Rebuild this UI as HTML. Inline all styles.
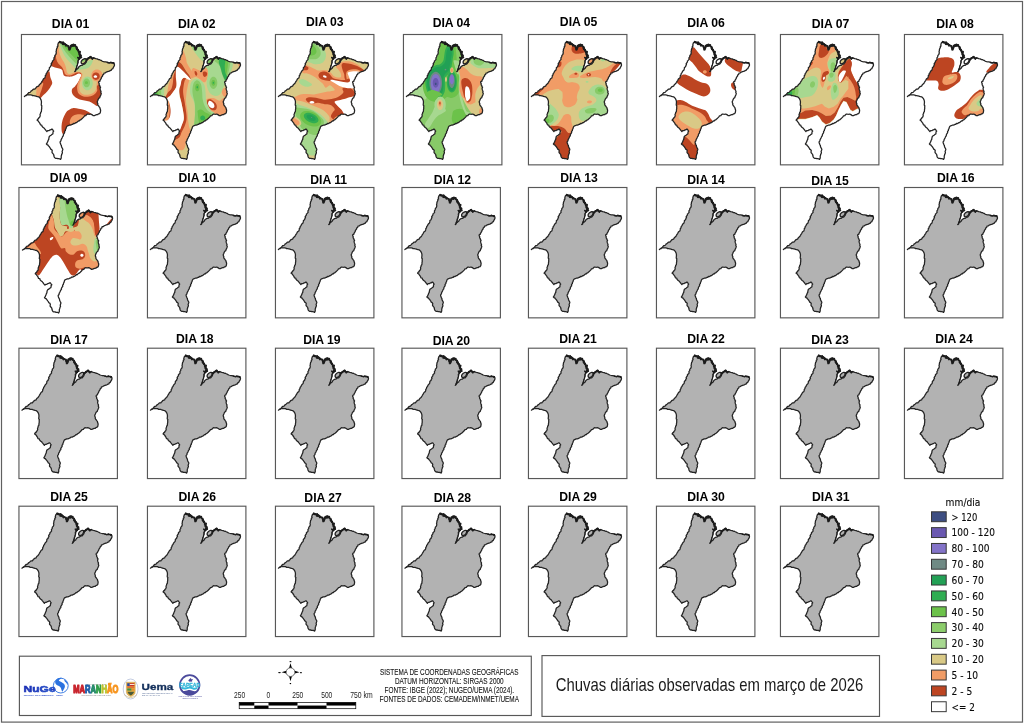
<!DOCTYPE html>
<html lang="pt-BR"><head><meta charset="utf-8"><title>Chuvas diárias observadas em março de 2026</title>
<style>html,body{margin:0;padding:0;background:#fff}body{width:1024px;height:724px;overflow:hidden}svg{display:block}text{font-family:"Liberation Sans",sans-serif;fill:#1a1a1a}.t{font-weight:bold;font-size:12.2px;text-anchor:middle;fill:#000}.lg{font-family:"DejaVu Sans","Liberation Sans",sans-serif;font-size:10px;fill:#0a0a0a;stroke:#0a0a0a;stroke-width:0.12px}.fr{fill:#fff;stroke:#585858;stroke-width:1.15}.ol{fill:none;stroke:#242424;stroke-width:13;stroke-linejoin:round}.ct{fill:none;stroke:#1c1c1c;stroke-width:18;stroke-linejoin:round;stroke-linecap:round}</style></head><body>
<svg width="1024" height="724" viewBox="0 0 1024 724" style="will-change:transform;filter:blur(0.3px)">
<defs>
<path id="st" d="M35.0 640.0L44.6 633.0L55.0 625.0L65.1 618.1L68.4 612.4L75.0 605.0L80.8 600.1L92.7 597.3L100.0 590.0L104.3 582.2L111.7 580.0L124.0 567.6L130.0 565.0L142.2 563.7L147.9 555.9L155.0 550.0L160.6 541.1L171.9 536.5L180.0 535.0L184.2 524.6L189.6 518.0L200.0 510.0L204.5 504.4L210.2 494.5L215.0 485.0L221.7 476.3L228.0 463.2L235.0 455.0L244.0 450.2L247.7 439.2L248.5 426.6L255.0 420.0L258.3 404.9L267.1 395.9L270.0 385.0L279.4 374.1L287.0 367.8L290.0 355.0L291.0 342.7L303.3 334.8L305.0 325.0L312.2 314.2L308.3 306.0L315.0 295.0L322.2 284.8L321.7 277.0L330.0 270.0L338.7 260.4L336.9 244.6L345.0 235.0L346.8 219.8L357.4 209.1L360.0 200.0L361.1 189.6L358.9 181.9L362.0 170.0L362.4 161.1L365.6 149.4L372.0 140.0L371.7 128.2L379.8 122.4L376.4 113.1L380.0 100.0L382.7 90.8L392.8 84.5L395.0 75.0L400.1 82.2L409.4 79.7L420.0 85.0L430.5 87.0L435.0 88.3L445.0 95.0L451.7 103.2L465.0 110.0L472.9 118.3L485.0 125.0L486.3 134.6L493.3 144.9L492.0 155.0L496.6 150.4L500.0 140.0L502.5 128.9L513.3 125.9L515.0 115.0L523.0 107.5L535.0 105.0L546.9 116.0L555.0 120.0L558.2 130.3L569.4 134.2L572.0 140.0L576.7 145.2L579.0 160.4L588.0 165.0L589.9 176.6L594.1 187.6L600.0 195.0L602.8 203.3L601.4 216.8L606.0 225.0L599.6 232.8L600.0 245.0L590.5 245.3L580.0 240.0L585.9 245.7L590.0 255.0L602.0 252.0L597.3 257.6L586.0 268.0L581.1 278.2L584.0 292.0L580.6 300.0L578.0 315.0L571.9 326.5L571.0 340.0L567.9 345.4L562.6 359.8L560.0 365.0L559.8 375.8L552.0 384.0L560.2 377.3L562.5 365.6L572.0 362.0L574.1 357.9L585.6 351.0L590.0 340.0L596.2 333.1L610.0 324.0L617.9 322.5L624.6 321.3L634.0 314.0L638.6 309.7L651.9 307.9L658.0 300.0L664.6 293.0L669.7 286.0L672.0 274.0L677.3 266.0L685.0 255.0L695.7 250.5L700.0 240.0L706.8 239.8L715.0 235.0L725.4 243.1L730.0 250.0L738.5 246.6L745.0 245.0L757.3 249.2L765.0 252.8L780.0 255.0L793.9 261.8L801.8 261.6L811.9 266.9L820.0 270.0L829.5 276.5L836.7 279.5L846.2 282.1L860.0 285.0L871.5 286.2L884.9 291.6L895.0 295.0L906.9 298.4L915.0 291.1L926.4 296.4L936.6 292.4L950.0 295.0L956.7 308.8L957.0 320.0L950.9 334.8L944.3 344.7L940.0 355.0L928.8 360.7L924.9 370.8L916.8 372.8L905.0 380.0L894.0 382.5L878.8 388.0L870.0 392.0L862.7 398.8L850.0 400.0L846.7 413.6L838.2 417.4L835.0 430.0L829.6 437.0L822.7 446.8L821.0 456.2L815.0 465.0L808.5 476.5L808.9 482.1L796.6 487.5L795.0 500.0L800.5 506.3L800.0 520.0L806.7 528.9L808.5 539.0L815.0 545.0L809.7 554.6L812.0 570.0L814.1 576.2L819.6 587.9L816.6 596.4L822.0 610.0L819.0 619.4L815.0 630.8L810.0 639.4L805.8 653.1L798.1 657.0L790.0 669.4L787.1 678.5L780.8 692.5L782.0 704.4L786.4 711.2L785.5 721.8L790.0 732.4L797.6 739.9L802.9 749.1L808.0 754.4L810.6 769.2L815.0 779.4L814.9 787.8L811.8 804.5L805.0 814.4L792.0 818.0L786.0 825.7L775.0 826.4L762.3 830.3L754.7 835.4L740.0 836.4L733.6 830.4L721.2 822.7L710.0 819.4L701.8 821.9L691.1 821.1L680.0 819.4L667.7 829.3L663.8 836.6L650.0 839.4L641.5 851.0L631.1 861.2L626.6 865.9L615.0 876.4L602.7 881.9L597.4 890.5L587.9 890.6L581.5 896.9L570.0 906.4L562.4 907.8L548.7 916.7L537.1 915.6L530.1 924.2L520.0 926.4L512.7 931.5L503.6 933.5L493.6 933.9L477.8 941.0L470.0 944.4L463.3 957.9L461.1 967.9L455.0 979.4L454.0 989.9L446.0 998.4L446.5 1012.6L440.0 1019.4L432.7 1033.5L433.7 1042.1L425.6 1050.8L420.0 1064.4L415.3 1074.4L410.8 1080.6L408.8 1094.5L400.0 1104.4L401.7 1116.8L405.0 1124.4L408.8 1134.3L413.2 1140.9L415.0 1154.4L419.6 1163.7L427.3 1177.8L428.0 1184.4L424.2 1194.2L421.0 1203.9L424.5 1217.6L420.0 1224.4L417.1 1234.6L412.2 1248.7L412.0 1259.4L411.9 1268.9L405.0 1284.4L397.2 1277.9L382.6 1276.9L375.0 1276.4L367.5 1272.6L355.8 1272.7L348.0 1269.4L340.5 1259.6L336.3 1246.2L335.0 1234.4L327.3 1225.3L323.9 1220.6L318.0 1214.4L318.0 1203.7L320.0 1194.4L313.6 1183.3L304.3 1178.8L300.0 1169.4L294.4 1161.3L289.5 1153.6L280.0 1144.4L276.2 1136.3L268.6 1134.9L260.0 1126.4L268.2 1115.9L268.5 1111.8L275.0 1099.4L276.1 1093.4L284.8 1076.5L285.0 1069.4L286.2 1062.9L289.7 1049.5L295.0 1044.4L307.7 1037.1L317.3 1028.1L325.0 1024.4L327.6 1015.9L327.8 1002.0L335.0 994.4L329.0 987.7L320.0 974.4L315.4 974.0L303.4 981.8L295.0 982.4L285.0 989.6L272.5 990.3L265.0 999.4L255.2 987.4L252.1 982.9L245.0 974.4L238.0 964.1L227.5 957.0L225.2 955.8L215.0 944.4L212.2 932.4L199.0 930.5L195.9 920.3L190.0 909.4L183.6 901.6L180.0 894.4L172.6 887.8L165.0 882.4L172.6 870.3L180.1 868.7L182.7 857.3L192.0 849.4L196.6 837.0L194.9 823.4L200.0 814.4L202.6 800.5L208.1 796.8L209.1 787.3L210.0 774.4L212.0 763.6L212.0 754.4L211.8 744.4L213.9 736.8L207.1 727.7L208.0 714.4L209.2 706.6L209.0 693.6L208.9 687.4L205.0 674.4L201.6 667.5L195.0 656.4L188.8 651.0L180.1 643.6L170.0 642.4L158.7 638.8L146.1 634.6L140.0 632.4L131.1 631.4L117.9 632.0L111.3 625.1L100.0 624.4L91.3 624.5L80.3 622.5L74.0 624.0L60.0 622.4L53.3 630.4L47.2 630.3Z"/>
<path id="isl" d="M622.0 304.0C617.2 301.0 614.7 289.7 616.0 283.0C617.3 276.3 624.0 269.0 630.0 264.0C636.0 259.0 645.8 253.8 652.0 253.0C658.2 252.2 665.3 254.0 667.0 259.0C668.7 264.0 665.7 276.0 662.0 283.0C658.3 290.0 651.7 297.5 645.0 301.0C638.3 304.5 626.8 307.0 622.0 304.0Z"/>
<clipPath id="cp"><use href="#st"/><use href="#isl"/></clipPath>
<g id="coast"><path class="ct" transform="translate(1 6)" d="M395.0 75.0L397.6 79.3L408.8 84.0L420.0 85.0L431.1 78.8L426.0 99.1L445.0 95.0L449.7 96.7L465.0 110.0L485.9 116.8L485.0 125.0L494.7 134.5L492.7 137.3L492.0 155.0L499.0 155.6L500.0 140.0L505.5 137.0L513.8 113.7L515.0 115.0L530.7 112.0L535.0 105.0L540.6 102.2L555.0 120.0L568.7 126.1L571.1 141.7L572.0 140.0L582.0 157.6L580.4 163.3L588.0 165.0L590.8 184.6L604.3 176.1L600.0 195.0L594.0 198.8L614.2 213.6L606.0 225.0L605.8 230.6L600.0 245.0"/><path class="ct" style="stroke-width:10" d="M600.0 245.0L590.7 244.0L580.0 240.0L586.8 250.2L590.0 255.0L597.4 256.0L602.0 252.0L591.2 259.8L586.0 268.0L588.0 276.9L587.1 281.7L584.0 292.0L580.8 302.0L578.0 315.0L575.9 323.8L570.4 330.0L571.0 340.0L566.0 350.8L565.3 354.6L560.0 365.0L557.8 372.3L552.0 384.0"/><path class="ct" style="stroke-width:16" d="M672.0 268.0L677.9 259.5L685.0 255.0L684.2 255.9L687.1 245.0L700.0 240.0L713.9 230.8L715.0 235.0L720.9 241.9L717.7 243.1L730.0 250.0L740.8 246.7L745.0 245.0"/><path class="ct" style="stroke-width:13" d="M890.0 294.0L950.0 295.0"/></g>
<g id="cdots" fill="#1c1c1c"><g transform="translate(1 6)"><circle cx="398" cy="76" r="10.1"/><circle cx="438" cy="99" r="9.4"/><circle cx="442" cy="94" r="11.5"/><circle cx="459" cy="113" r="11.7"/><circle cx="488" cy="136" r="9.0"/><circle cx="501" cy="142" r="9.8"/><circle cx="508" cy="113" r="9.5"/><circle cx="531" cy="114" r="12.6"/><circle cx="553" cy="109" r="11.8"/><circle cx="569" cy="141" r="11.9"/><circle cx="572" cy="149" r="10.4"/><circle cx="583" cy="159" r="10.4"/><circle cx="600" cy="208" r="10.0"/><circle cx="613" cy="232" r="12.0"/></g><circle cx="600" cy="240" r="6.5"/><circle cx="590" cy="253" r="7.7"/><circle cx="601" cy="250" r="5.1"/><circle cx="672" cy="260" r="10.8"/><circle cx="693" cy="247" r="8.6"/><circle cx="710" cy="233" r="8.0"/><circle cx="718" cy="243" r="10.6"/><circle cx="730" cy="256" r="9.0"/><circle cx="887" cy="290" r="8.5"/><circle cx="922" cy="290" r="7.5"/><circle cx="946" cy="300" r="9.4"/></g>
<g id="gmap"><use href="#st" fill="#b2b2b2"/><use href="#isl" fill="#b2b2b2"/><use href="#st" class="ol"/><use href="#isl" class="ol" style="stroke-width:14;stroke:#222"/><use href="#coast"/><use href="#cdots"/></g>
</defs>
<rect x="0" y="0" width="1024" height="724" fill="#fff"/>
<rect x="1.5" y="1.5" width="1021" height="720.6" fill="none" stroke="#606060" stroke-width="1.2"/>
<text class="t" x="70.6" y="27.9">DIA 01</text>
<rect class="fr" x="21.45" y="34.50" width="98.45" height="130.35"/>
<g transform="translate(21.00 34.00) scale(0.09766)">
<g clip-path="url(#cp)">
<rect x="0" y="0" width="1024" height="1340" fill="#ffffff"/>
<path fill="#bd4522" d="M300.0 300.0C296.7 345.0 313.3 323.3 320.0 330.0C326.7 336.7 330.0 336.7 340.0 340.0C350.0 343.3 366.7 345.8 380.0 350.0C393.3 354.2 411.7 356.7 420.0 365.0C428.3 373.3 426.7 390.0 430.0 400.0C433.3 410.0 433.3 419.2 440.0 425.0C446.7 430.8 456.7 433.3 470.0 435.0C483.3 436.7 505.0 437.5 520.0 435.0C535.0 432.5 548.3 425.0 560.0 420.0C571.7 415.0 581.7 406.7 590.0 405.0C598.3 403.3 605.8 405.8 610.0 410.0C614.2 414.2 616.7 421.7 615.0 430.0C613.3 438.3 605.8 448.3 600.0 460.0C594.2 471.7 588.3 486.7 580.0 500.0C571.7 513.3 559.2 530.0 550.0 540.0C540.8 550.0 530.0 551.7 525.0 560.0C520.0 568.3 519.2 580.0 520.0 590.0C520.8 600.0 523.3 610.0 530.0 620.0C536.7 630.0 548.3 641.7 560.0 650.0C571.7 658.3 585.0 665.0 600.0 670.0C615.0 675.0 633.3 676.3 650.0 680.0C666.7 683.7 685.0 686.3 700.0 692.0C715.0 697.7 727.5 706.7 740.0 714.0C752.5 721.3 765.0 733.3 775.0 736.0C785.0 738.7 762.5 736.0 800.0 730.0C837.5 724.0 966.7 788.3 1000.0 700.0C1033.3 611.7 1100.0 311.7 1000.0 200.0C900.0 88.3 510.0 53.3 400.0 30.0C290.0 6.7 356.7 15.0 340.0 60.0C323.3 105.0 303.3 255.0 300.0 300.0Z"/>
<path fill="#f19c66" d="M368.0 150.0C361.3 178.3 361.3 183.3 360.0 200.0C358.7 216.7 356.7 233.3 360.0 250.0C363.3 266.7 370.0 285.0 380.0 300.0C390.0 315.0 410.0 326.7 420.0 340.0C430.0 353.3 435.0 368.3 440.0 380.0C445.0 391.7 443.3 402.5 450.0 410.0C456.7 417.5 468.3 423.3 480.0 425.0C491.7 426.7 506.7 424.2 520.0 420.0C533.3 415.8 548.3 404.2 560.0 400.0C571.7 395.8 580.8 394.7 590.0 395.0C599.2 395.3 611.3 394.5 615.0 402.0C618.7 409.5 615.8 427.0 612.0 440.0C608.2 453.0 597.7 466.7 592.0 480.0C586.3 493.3 580.8 506.7 578.0 520.0C575.2 533.3 573.0 545.0 575.0 560.0C577.0 575.0 579.2 596.7 590.0 610.0C600.8 623.3 621.7 635.0 640.0 640.0C658.3 645.0 681.7 643.3 700.0 640.0C718.3 636.7 736.7 630.0 750.0 620.0C763.3 610.0 772.5 596.7 780.0 580.0C787.5 563.3 758.3 533.3 795.0 520.0C831.7 506.7 965.8 553.3 1000.0 500.0C1034.2 446.7 1100.0 278.3 1000.0 200.0C900.0 121.7 505.3 38.3 400.0 30.0C294.7 21.7 374.7 121.7 368.0 150.0Z"/>
<path fill="#d9c986" d="M385.0 105.0C383.3 130.0 385.8 157.5 390.0 180.0C394.2 202.5 401.7 221.7 410.0 240.0C418.3 258.3 431.7 273.3 440.0 290.0C448.3 306.7 455.0 323.3 460.0 340.0C465.0 356.7 465.0 378.3 470.0 390.0C475.0 401.7 480.0 408.3 490.0 410.0C500.0 411.7 518.3 404.2 530.0 400.0C541.7 395.8 548.3 386.7 560.0 385.0C571.7 383.3 588.7 385.8 600.0 390.0C611.3 394.2 624.3 400.0 628.0 410.0C631.7 420.0 625.7 436.7 622.0 450.0C618.3 463.3 610.0 475.0 606.0 490.0C602.0 505.0 598.2 523.3 598.0 540.0C597.8 556.7 598.0 576.7 605.0 590.0C612.0 603.3 624.2 615.0 640.0 620.0C655.8 625.0 682.5 623.3 700.0 620.0C717.5 616.7 733.3 610.0 745.0 600.0C756.7 590.0 764.8 576.7 770.0 560.0C775.2 543.3 771.0 513.3 776.0 500.0C781.0 486.7 762.7 485.0 800.0 480.0C837.3 475.0 966.7 516.7 1000.0 470.0C1033.3 423.3 1100.0 273.3 1000.0 200.0C900.0 126.7 502.5 45.8 400.0 30.0C297.5 14.2 386.7 80.0 385.0 105.0Z"/>
<path fill="#f19c66" d="M836.0 425.0C836.0 432.9 834.4 441.4 831.6 448.7C828.8 456.0 824.2 463.2 819.0 468.8C813.8 474.4 807.0 479.3 800.2 482.3C793.4 485.3 785.4 487.0 778.0 487.0C770.6 487.0 762.6 485.3 755.8 482.3C749.0 479.3 742.2 474.4 737.0 468.8C731.8 463.2 727.2 456.0 724.4 448.7C721.6 441.4 720.0 432.9 720.0 425.0C720.0 417.1 721.6 408.6 724.4 401.3C727.2 394.0 731.8 386.8 737.0 381.2C742.2 375.6 749.0 370.7 755.8 367.7C762.6 364.7 770.6 363.0 778.0 363.0C785.4 363.0 793.4 364.7 800.2 367.7C807.0 370.7 813.8 375.6 819.0 381.2C824.2 386.8 828.8 394.0 831.6 401.3C834.4 408.6 836.0 417.1 836.0 425.0Z"/>
<path fill="#bd4522" d="M806.0 432.0C806.0 436.8 805.0 442.1 803.1 446.5C801.3 451.0 798.3 455.4 794.9 458.9C791.4 462.3 787.0 465.3 782.5 467.1C778.1 469.0 772.8 470.0 768.0 470.0C763.2 470.0 757.9 469.0 753.5 467.1C749.0 465.3 744.6 462.3 741.1 458.9C737.7 455.4 734.7 451.0 732.9 446.5C731.0 442.1 730.0 436.8 730.0 432.0C730.0 427.2 731.0 421.9 732.9 417.5C734.7 413.0 737.7 408.6 741.1 405.1C744.6 401.7 749.0 398.7 753.5 396.9C757.9 395.0 763.2 394.0 768.0 394.0C772.8 394.0 778.1 395.0 782.5 396.9C787.0 398.7 791.4 401.7 794.9 405.1C798.3 408.6 801.3 413.0 803.1 417.5C805.0 421.9 806.0 427.2 806.0 432.0Z"/>
<path fill="#ffffff" d="M780.0 436.0C780.0 437.7 779.5 439.4 778.6 441.0C777.8 442.5 776.4 444.0 774.7 445.2C773.1 446.4 771.0 447.4 768.9 448.0C766.8 448.6 764.3 449.0 762.0 449.0C759.7 449.0 757.2 448.6 755.1 448.0C753.0 447.4 750.9 446.4 749.3 445.2C747.6 444.0 746.2 442.5 745.4 441.0C744.5 439.4 744.0 437.7 744.0 436.0C744.0 434.3 744.5 432.6 745.4 431.0C746.2 429.5 747.6 428.0 749.3 426.8C750.9 425.6 753.0 424.6 755.1 424.0C757.2 423.4 759.7 423.0 762.0 423.0C764.3 423.0 766.8 423.4 768.9 424.0C771.0 424.6 773.1 425.6 774.7 426.8C776.4 428.0 777.8 429.5 778.6 431.0C779.5 432.6 780.0 434.3 780.0 436.0Z"/>
<path fill="#a7d890" d="M398.0 100.0C398.0 120.0 411.3 148.3 420.0 170.0C428.7 191.7 438.3 211.7 450.0 230.0C461.7 248.3 476.7 265.0 490.0 280.0C503.3 295.0 518.0 307.3 530.0 320.0C542.0 332.7 553.7 351.8 562.0 356.0C570.3 360.2 570.3 350.2 580.0 345.0C589.7 339.8 606.7 333.3 620.0 325.0C633.3 316.7 646.7 303.8 660.0 295.0C673.3 286.2 687.5 276.5 700.0 272.0C712.5 267.5 731.3 261.7 735.0 268.0C738.7 274.3 729.5 297.2 722.0 310.0C714.5 322.8 703.7 336.3 690.0 345.0C676.3 353.7 655.8 358.2 640.0 362.0C624.2 365.8 608.3 365.8 595.0 368.0C581.7 370.2 559.2 396.3 560.0 375.0C560.8 353.7 603.3 292.5 600.0 240.0C596.7 187.5 570.0 91.7 540.0 60.0C510.0 28.3 443.7 43.3 420.0 50.0C396.3 56.7 398.0 80.0 398.0 100.0Z"/>
<path fill="#88ca68" d="M412.0 100.0C415.3 118.3 428.7 140.8 440.0 160.0C451.3 179.2 466.7 198.3 480.0 215.0C493.3 231.7 506.7 245.8 520.0 260.0C533.3 274.2 550.0 289.2 560.0 300.0C570.0 310.8 573.3 325.0 580.0 325.0C586.7 325.0 590.0 306.7 600.0 300.0C610.0 293.3 626.7 291.3 640.0 285.0C653.3 278.7 669.2 267.8 680.0 262.0C690.8 256.2 703.3 256.2 705.0 250.0C706.7 243.8 707.5 241.7 690.0 225.0C672.5 208.3 625.0 177.5 600.0 150.0C575.0 122.5 570.0 76.7 540.0 60.0C510.0 43.3 441.3 43.3 420.0 50.0C398.7 56.7 408.7 81.7 412.0 100.0Z"/>
<path fill="#6cc24a" d="M430.0 100.0C423.3 115.0 448.3 134.2 460.0 150.0C471.7 165.8 486.7 180.8 500.0 195.0C513.3 209.2 527.5 223.3 540.0 235.0C552.5 246.7 564.7 262.5 575.0 265.0C585.3 267.5 593.7 260.8 602.0 250.0C610.3 239.2 628.7 225.0 625.0 200.0C621.3 175.0 600.8 123.3 580.0 100.0C559.2 76.7 525.0 60.0 500.0 60.0C475.0 60.0 436.7 85.0 430.0 100.0Z"/>
<path fill="#a7d890" d="M735.0 505.0C735.0 513.9 733.5 523.5 730.8 531.8C728.1 540.0 723.9 548.2 718.9 554.5C713.9 560.8 707.5 566.3 701.0 569.7C694.6 573.1 687.0 575.0 680.0 575.0C673.0 575.0 665.4 573.1 659.0 569.7C652.5 566.3 646.1 560.8 641.1 554.5C636.1 548.2 631.9 540.0 629.2 531.8C626.5 523.5 625.0 513.9 625.0 505.0C625.0 496.1 626.5 486.5 629.2 478.2C631.9 470.0 636.1 461.8 641.1 455.5C646.1 449.2 652.5 443.7 659.0 440.3C665.4 436.9 673.0 435.0 680.0 435.0C687.0 435.0 694.6 436.9 701.0 440.3C707.5 443.7 713.9 449.2 718.9 455.5C723.9 461.8 728.1 470.0 730.8 478.2C733.5 486.5 735.0 496.1 735.0 505.0Z"/>
<path fill="#88ca68" d="M707.0 500.0C707.0 505.7 706.0 511.9 704.3 517.2C702.6 522.5 699.9 527.8 696.7 531.8C693.6 535.9 689.5 539.4 685.4 541.6C681.3 543.8 676.5 545.0 672.0 545.0C667.5 545.0 662.7 543.8 658.6 541.6C654.5 539.4 650.4 535.9 647.3 531.8C644.1 527.8 641.4 522.5 639.7 517.2C638.0 511.9 637.0 505.7 637.0 500.0C637.0 494.3 638.0 488.1 639.7 482.8C641.4 477.5 644.1 472.2 647.3 468.2C650.4 464.1 654.5 460.6 658.6 458.4C662.7 456.2 667.5 455.0 672.0 455.0C676.5 455.0 681.3 456.2 685.4 458.4C689.5 460.6 693.6 464.1 696.7 468.2C699.9 472.2 702.6 477.5 704.3 482.8C706.0 488.1 707.0 494.3 707.0 500.0Z"/>
<path fill="#6cc24a" d="M685.0 498.0C685.0 499.9 684.6 502.0 683.9 503.7C683.1 505.5 682.0 507.3 680.6 508.6C679.3 510.0 677.5 511.1 675.7 511.9C674.0 512.6 671.9 513.0 670.0 513.0C668.1 513.0 666.0 512.6 664.3 511.9C662.5 511.1 660.7 510.0 659.4 508.6C658.0 507.3 656.9 505.5 656.1 503.7C655.4 502.0 655.0 499.9 655.0 498.0C655.0 496.1 655.4 494.0 656.1 492.3C656.9 490.5 658.0 488.7 659.4 487.4C660.7 486.0 662.5 484.9 664.3 484.1C666.0 483.4 668.1 483.0 670.0 483.0C671.9 483.0 674.0 483.4 675.7 484.1C677.5 484.9 679.3 486.0 680.6 487.4C682.0 488.7 683.1 490.5 683.9 492.3C684.6 494.0 685.0 496.1 685.0 498.0Z"/>
<path fill="#bd4522" d="M290.0 385.0C296.7 391.7 295.0 420.8 300.0 440.0C305.0 459.2 320.0 482.5 320.0 500.0C320.0 517.5 308.3 530.8 300.0 545.0C291.7 559.2 281.7 571.7 270.0 585.0C258.3 598.3 244.2 611.8 230.0 625.0C215.8 638.2 206.7 657.3 185.0 664.0C163.3 670.7 129.2 665.7 100.0 665.0C70.8 664.3 16.7 670.8 10.0 660.0C3.3 649.2 28.3 630.0 60.0 600.0C91.7 570.0 166.7 513.3 200.0 480.0C233.3 446.7 245.0 415.8 260.0 400.0C275.0 384.2 283.3 378.3 290.0 385.0Z"/>
<path fill="#f19c66" d="M215.0 498.0C221.3 499.7 228.0 500.5 228.0 510.0C228.0 519.5 219.7 540.0 215.0 555.0C210.3 570.0 206.2 584.2 200.0 600.0C193.8 615.8 194.7 639.2 178.0 650.0C161.3 660.8 128.0 663.3 100.0 665.0C72.0 666.7 16.7 670.8 10.0 660.0C3.3 649.2 30.0 626.7 60.0 600.0C90.0 573.3 164.2 517.0 190.0 500.0C215.8 483.0 208.7 496.3 215.0 498.0Z"/>
<path fill="#d9c986" d="M150.0 558.0C166.0 558.0 156.0 587.3 156.0 600.0C156.0 612.7 159.3 623.2 150.0 634.0C140.7 644.8 123.3 660.7 100.0 665.0C76.7 669.3 16.7 670.8 10.0 660.0C3.3 649.2 36.7 617.0 60.0 600.0C83.3 583.0 134.0 558.0 150.0 558.0Z"/>
<path fill="#bd4522" d="M415.0 944.4C415.8 923.6 419.2 904.4 425.0 884.4C430.8 864.4 440.8 841.1 450.0 824.4C459.2 807.7 466.7 795.2 480.0 784.4C493.3 773.6 511.7 762.7 530.0 759.4C548.3 756.1 570.0 761.1 590.0 764.4C610.0 767.7 631.7 772.7 650.0 779.4C668.3 786.1 687.5 796.1 700.0 804.4C712.5 812.7 728.3 821.9 725.0 829.4C721.7 836.9 697.5 838.6 680.0 849.4C662.5 860.2 640.0 881.9 620.0 894.4C600.0 906.9 580.0 916.1 560.0 924.4C540.0 932.7 515.0 938.6 500.0 944.4C485.0 950.2 477.5 950.2 470.0 959.4C462.5 968.6 460.0 987.7 455.0 999.4C450.0 1011.1 445.8 1027.7 440.0 1029.4C434.2 1031.1 424.2 1023.6 420.0 1009.4C415.8 995.2 414.2 965.2 415.0 944.4Z"/>
<path fill="#f19c66" d="M500.0 914.4C497.5 905.1 500.0 886.9 505.0 874.4C510.0 861.9 519.2 847.7 530.0 839.4C540.8 831.1 555.0 826.9 570.0 824.4C585.0 821.9 606.7 822.4 620.0 824.4C633.3 826.4 650.0 827.7 650.0 836.4C650.0 845.1 633.3 864.1 620.0 876.4C606.7 888.7 586.7 901.4 570.0 910.4C553.3 919.4 531.7 929.7 520.0 930.4C508.3 931.1 502.5 923.7 500.0 914.4Z"/>
</g>
<use href="#st" class="ol"/><use href="#isl" class="ol" style="stroke-width:14;stroke:#222"/><use href="#coast"/><use href="#cdots"/>
</g>
<text class="t" x="196.8" y="27.9">DIA 02</text>
<rect class="fr" x="147.45" y="34.50" width="98.45" height="130.35"/>
<g transform="translate(147.00 34.00) scale(0.09766)">
<g clip-path="url(#cp)">
<rect x="0" y="0" width="1024" height="1340" fill="#d9c986"/>
<path fill="#f19c66" d="M300.0 350.0C295.5 348.3 281.3 386.7 270.0 410.0C258.7 433.3 240.8 468.3 232.0 490.0C223.2 511.7 221.2 521.7 217.0 540.0C212.8 558.3 210.5 581.3 207.0 600.0C203.5 618.7 196.0 640.3 196.0 652.0C196.0 663.7 199.7 673.3 207.0 670.0C214.3 666.7 229.5 645.0 240.0 632.0C250.5 619.0 260.3 606.0 270.0 592.0C279.7 578.0 292.5 563.3 298.0 548.0C303.5 532.7 303.2 521.3 303.0 500.0C302.8 478.7 297.5 445.0 297.0 420.0C296.5 395.0 304.5 351.7 300.0 350.0Z"/>
<path fill="#f19c66" d="M365.0 160.0C370.5 163.3 379.2 185.0 385.0 200.0C390.8 215.0 395.8 233.3 400.0 250.0C404.2 266.7 403.3 283.3 410.0 300.0C416.7 316.7 430.0 333.3 440.0 350.0C450.0 366.7 463.3 385.0 470.0 400.0C476.7 415.0 483.3 431.3 480.0 440.0C476.7 448.7 458.3 456.2 450.0 452.0C441.7 447.8 438.3 427.8 430.0 415.0C421.7 402.2 409.2 388.3 400.0 375.0C390.8 361.7 384.2 348.3 375.0 335.0C365.8 321.7 355.0 304.2 345.0 295.0C335.0 285.8 316.7 290.8 315.0 280.0C313.3 269.2 328.8 246.7 335.0 230.0C341.2 213.3 347.0 191.7 352.0 180.0C357.0 168.3 359.5 156.7 365.0 160.0Z"/>
<path fill="#f19c66" d="M470.0 350.0C480.8 344.2 505.0 360.8 520.0 365.0C535.0 369.2 546.7 379.2 560.0 375.0C573.3 370.8 590.0 342.5 600.0 340.0C610.0 337.5 615.8 346.7 620.0 360.0C624.2 373.3 626.7 401.7 625.0 420.0C623.3 438.3 615.8 457.5 610.0 470.0C604.2 482.5 598.3 493.3 590.0 495.0C581.7 496.7 568.3 485.8 560.0 480.0C551.7 474.2 550.0 466.7 540.0 460.0C530.0 453.3 511.7 443.3 500.0 440.0C488.3 436.7 477.5 446.7 470.0 440.0C462.5 433.3 455.0 415.0 455.0 400.0C455.0 385.0 459.2 355.8 470.0 350.0Z"/>
<path fill="#f19c66" d="M380.0 445.0C392.5 444.2 423.3 452.5 430.0 465.0C436.7 477.5 424.2 497.5 420.0 520.0C415.8 542.5 408.3 571.0 405.0 600.0C401.7 629.0 398.3 661.7 400.0 694.0C401.7 726.3 411.7 764.0 415.0 794.0C418.3 824.0 417.5 849.0 420.0 874.0C422.5 899.0 425.8 923.0 430.0 944.0C434.2 965.0 446.7 981.7 445.0 1000.0C443.3 1018.3 427.5 1035.8 420.0 1054.0C412.5 1072.2 405.0 1092.3 400.0 1109.0C395.0 1125.7 395.0 1141.5 390.0 1154.0C385.0 1166.5 379.2 1178.2 370.0 1184.0C360.8 1189.8 346.7 1191.5 335.0 1189.0C323.3 1186.5 313.3 1179.0 300.0 1169.0C286.7 1159.0 257.5 1143.2 255.0 1129.0C252.5 1114.8 274.2 1094.0 285.0 1084.0C295.8 1074.0 310.0 1080.7 320.0 1069.0C330.0 1057.3 335.0 1036.5 345.0 1014.0C355.0 991.5 371.7 957.3 380.0 934.0C388.3 910.7 393.3 897.3 395.0 874.0C396.7 850.7 394.2 824.0 390.0 794.0C385.8 764.0 376.7 726.3 370.0 694.0C363.3 661.7 354.2 629.0 350.0 600.0C345.8 571.0 344.2 541.7 345.0 520.0C345.8 498.3 349.2 482.5 355.0 470.0C360.8 457.5 367.5 445.8 380.0 445.0Z"/>
<path fill="#f19c66" d="M620.0 662.4C631.7 659.4 660.0 652.7 680.0 656.4C700.0 660.1 725.0 682.7 740.0 684.4C755.0 686.1 760.0 671.4 770.0 666.4C780.0 661.4 761.7 656.4 800.0 654.4C838.3 652.4 966.7 621.1 1000.0 654.4C1033.3 687.7 1044.2 823.6 1000.0 854.4C955.8 885.2 785.0 844.7 735.0 839.4C685.0 834.1 712.5 828.2 700.0 822.4C687.5 816.6 670.0 812.4 660.0 804.4C650.0 796.4 647.5 787.7 640.0 774.4C632.5 761.1 620.0 741.1 615.0 724.4C610.0 707.7 609.2 684.7 610.0 674.4C610.8 664.1 608.3 665.4 620.0 662.4Z"/>
<path fill="#f19c66" d="M765.0 570.0C768.3 560.8 777.5 556.7 790.0 555.0C802.5 553.3 831.7 545.0 840.0 560.0C848.3 575.0 848.3 631.7 840.0 645.0C831.7 658.3 801.7 645.8 790.0 640.0C778.3 634.2 774.2 621.7 770.0 610.0C765.8 598.3 761.7 579.2 765.0 570.0Z"/>
<path fill="#f19c66" d="M205.0 654.4C209.7 651.1 221.7 676.1 228.0 694.4C234.3 712.7 241.0 741.1 243.0 764.4C245.0 787.7 243.8 814.7 240.0 834.4C236.2 854.1 228.3 871.1 220.0 882.4C211.7 893.7 201.7 902.1 190.0 902.4C178.3 902.7 150.0 893.2 150.0 884.4C150.0 875.6 181.7 867.7 190.0 849.4C198.3 831.1 198.3 796.9 200.0 774.4C201.7 751.9 199.2 734.4 200.0 714.4C200.8 694.4 200.3 657.7 205.0 654.4Z"/>
<path fill="#f19c66" d="M935.0 300.0C938.8 292.0 960.0 284.2 965.0 290.0C970.0 295.8 968.8 327.0 965.0 335.0C961.2 343.0 947.0 343.8 942.0 338.0C937.0 332.2 931.2 308.0 935.0 300.0Z"/>
<path fill="#bd4522" d="M305.0 345.0C307.0 350.0 297.3 394.2 297.0 420.0C296.7 445.8 302.8 478.7 303.0 500.0C303.2 521.3 303.5 532.7 298.0 548.0C292.5 563.3 279.7 578.0 270.0 592.0C260.3 606.0 251.2 619.3 240.0 632.0C228.8 644.7 211.7 664.2 203.0 668.0C194.3 671.8 186.0 666.3 188.0 655.0C190.0 643.7 204.7 615.8 215.0 600.0C225.3 584.2 241.7 576.7 250.0 560.0C258.3 543.3 261.7 520.0 265.0 500.0C268.3 480.0 266.7 458.3 270.0 440.0C273.3 421.7 279.2 405.8 285.0 390.0C290.8 374.2 303.0 340.0 305.0 345.0Z"/>
<path fill="#bd4522" d="M310.0 283.0C316.7 280.7 334.2 288.8 345.0 298.0C355.8 307.2 365.8 324.7 375.0 338.0C384.2 351.3 390.8 364.7 400.0 378.0C409.2 391.3 422.2 405.2 430.0 418.0C437.8 430.8 445.3 447.7 447.0 455.0C448.7 462.3 461.5 480.3 440.0 462.0C418.5 443.7 340.5 370.0 318.0 345.0C295.5 320.0 306.3 322.3 305.0 312.0C303.7 301.7 303.3 285.3 310.0 283.0Z"/>
<path fill="#bd4522" d="M488.0 382.0C490.2 377.0 500.5 380.3 505.0 385.0C509.5 389.7 514.5 402.8 515.0 410.0C515.5 417.2 511.8 427.2 508.0 428.0C504.2 428.8 495.3 422.7 492.0 415.0C488.7 407.3 485.8 387.0 488.0 382.0Z"/>
<path fill="#bd4522" d="M572.0 392.0C575.3 385.3 587.8 383.7 595.0 385.0C602.2 386.3 612.2 393.3 615.0 400.0C617.8 406.7 616.2 418.3 612.0 425.0C607.8 431.7 596.2 440.0 590.0 440.0C583.8 440.0 578.0 433.0 575.0 425.0C572.0 417.0 568.7 398.7 572.0 392.0Z"/>
<path fill="#bd4522" d="M380.0 447.0C388.3 443.7 399.2 449.5 400.0 455.0C400.8 460.5 389.2 467.5 385.0 480.0C380.8 492.5 377.5 510.0 375.0 530.0C372.5 550.0 368.3 572.7 370.0 600.0C371.7 627.3 380.0 661.7 385.0 694.0C390.0 726.3 396.7 764.0 400.0 794.0C403.3 824.0 407.5 849.0 405.0 874.0C402.5 899.0 393.3 922.3 385.0 944.0C376.7 965.7 363.3 985.7 355.0 1004.0C346.7 1022.3 344.2 1041.7 335.0 1054.0C325.8 1066.3 309.2 1073.0 300.0 1078.0C290.8 1083.0 280.3 1091.3 280.0 1084.0C279.7 1076.7 289.7 1049.0 298.0 1034.0C306.3 1019.0 321.3 1009.0 330.0 994.0C338.7 979.0 342.5 964.0 350.0 944.0C357.5 924.0 371.7 899.0 375.0 874.0C378.3 849.0 374.2 824.0 370.0 794.0C365.8 764.0 356.7 726.3 350.0 694.0C343.3 661.7 332.5 627.3 330.0 600.0C327.5 572.7 331.7 550.8 335.0 530.0C338.3 509.2 342.5 488.8 350.0 475.0C357.5 461.2 371.7 450.3 380.0 447.0Z"/>
<path fill="#bd4522" d="M620.0 674.4C625.8 667.7 636.7 664.4 650.0 669.4C663.3 674.4 689.2 691.9 700.0 704.4C710.8 716.9 715.0 731.9 715.0 744.4C715.0 756.9 709.2 774.4 700.0 779.4C690.8 784.4 671.7 780.2 660.0 774.4C648.3 768.6 637.5 755.2 630.0 744.4C622.5 733.6 616.7 721.1 615.0 709.4C613.3 697.7 614.2 681.1 620.0 674.4Z"/>
<path fill="#bd4522" d="M226.0 694.4C228.0 694.4 242.3 741.1 245.0 764.4C247.7 787.7 245.8 815.1 242.0 834.4C238.2 853.7 224.0 881.2 222.0 880.4C220.0 879.6 228.2 848.7 230.0 829.4C231.8 810.1 233.7 786.9 233.0 764.4C232.3 741.9 224.0 694.4 226.0 694.4Z"/>
<path fill="#ffffff" d="M315.0 335.0C339.2 340.8 420.8 432.8 440.0 455.0C459.2 477.2 440.0 469.3 430.0 468.0C420.0 466.7 392.5 446.7 380.0 447.0C367.5 447.3 360.8 457.8 355.0 470.0C349.2 482.2 349.2 503.3 345.0 520.0C340.8 536.7 331.7 550.0 330.0 570.0C328.3 590.0 331.7 619.3 335.0 640.0C338.3 660.7 344.2 668.3 350.0 694.0C355.8 719.7 365.5 764.0 370.0 794.0C374.5 824.0 380.0 849.0 377.0 874.0C374.0 899.0 359.8 924.0 352.0 944.0C344.2 964.0 338.7 983.8 330.0 994.0C321.3 1004.2 313.3 1004.8 300.0 1005.0C286.7 1005.2 271.7 1012.5 250.0 995.0C228.3 977.5 175.8 919.2 170.0 900.0C164.2 880.8 203.7 891.0 215.0 880.0C226.3 869.0 233.8 853.3 238.0 834.0C242.2 814.7 242.2 787.3 240.0 764.0C237.8 740.7 230.8 711.3 225.0 694.0C219.2 676.7 202.5 670.7 205.0 660.0C207.5 649.3 229.2 641.7 240.0 630.0C250.8 618.3 260.3 604.2 270.0 590.0C279.7 575.8 292.7 560.0 298.0 545.0C303.3 530.0 302.5 520.8 302.0 500.0C301.5 479.2 292.8 447.5 295.0 420.0C297.2 392.5 290.8 329.2 315.0 335.0Z"/>
<path fill="#ffffff" d="M640.0 684.4C649.2 683.6 671.7 699.4 680.0 709.4C688.3 719.4 691.7 736.1 690.0 744.4C688.3 752.7 678.3 759.4 670.0 759.4C661.7 759.4 647.5 751.9 640.0 744.4C632.5 736.9 625.0 724.4 625.0 714.4C625.0 704.4 630.8 685.2 640.0 684.4Z"/>
<path fill="#a7d890" d="M150.0 560.0C162.7 552.8 171.7 538.3 176.0 545.0C180.3 551.7 177.3 583.3 176.0 600.0C174.7 616.7 174.0 638.3 168.0 645.0C162.0 651.7 151.3 641.7 140.0 640.0C128.7 638.3 113.3 635.0 100.0 635.0C86.7 635.0 73.3 635.8 60.0 640.0C46.7 644.2 20.0 664.2 20.0 660.0C20.0 655.8 46.7 627.0 60.0 615.0C73.3 603.0 85.0 597.2 100.0 588.0C115.0 578.8 137.3 567.2 150.0 560.0Z"/>
<path fill="#88ca68" d="M110.0 585.0C130.0 569.2 134.2 562.5 140.0 565.0C145.8 567.5 145.0 587.5 145.0 600.0C145.0 612.5 147.5 634.2 140.0 640.0C132.5 645.8 113.3 635.0 100.0 635.0C86.7 635.0 73.3 635.8 60.0 640.0C46.7 644.2 11.7 669.2 20.0 660.0C28.3 650.8 90.0 600.8 110.0 585.0Z"/>
<path fill="#6cc24a" d="M80.0 605.0C95.0 593.0 104.2 587.2 110.0 588.0C115.8 588.8 115.0 602.0 115.0 610.0C115.0 618.0 119.2 631.0 110.0 636.0C100.8 641.0 75.0 636.0 60.0 640.0C45.0 644.0 16.7 665.8 20.0 660.0C23.3 654.2 65.0 617.0 80.0 605.0Z"/>
<path fill="#30ad52" d="M60.0 618.0C71.7 608.3 84.2 601.7 90.0 602.0C95.8 602.3 95.8 614.7 95.0 620.0C94.2 625.3 97.5 627.3 85.0 634.0C72.5 640.7 24.2 662.7 20.0 660.0C15.8 657.3 48.3 627.7 60.0 618.0Z"/>
<path fill="#a7d890" d="M440.0 100.0C443.0 115.0 458.3 133.3 468.0 150.0C477.7 166.7 486.7 183.7 498.0 200.0C509.3 216.3 523.7 234.7 536.0 248.0C548.3 261.3 562.2 272.2 572.0 280.0C581.8 287.8 586.2 300.0 595.0 295.0C603.8 290.0 624.2 274.2 625.0 250.0C625.8 225.8 614.2 181.7 600.0 150.0C585.8 118.3 565.0 75.0 540.0 60.0C515.0 45.0 466.7 53.3 450.0 60.0C433.3 66.7 437.0 85.0 440.0 100.0Z"/>
<path fill="#88ca68" d="M503.0 148.0C503.0 150.6 502.5 153.3 501.6 155.7C500.8 158.0 499.4 160.3 497.7 162.1C496.1 163.9 494.0 165.5 491.9 166.5C489.8 167.5 487.3 168.0 485.0 168.0C482.7 168.0 480.2 167.5 478.1 166.5C476.0 165.5 473.9 163.9 472.3 162.1C470.6 160.3 469.2 158.0 468.4 155.7C467.5 153.3 467.0 150.6 467.0 148.0C467.0 145.4 467.5 142.7 468.4 140.3C469.2 138.0 470.6 135.7 472.3 133.9C473.9 132.1 476.0 130.5 478.1 129.5C480.2 128.5 482.7 128.0 485.0 128.0C487.3 128.0 489.8 128.5 491.9 129.5C494.0 130.5 496.1 132.1 497.7 133.9C499.4 135.7 500.8 138.0 501.6 140.3C502.5 142.7 503.0 145.4 503.0 148.0Z"/>
<path fill="#88ca68" d="M612.0 243.0C612.0 245.6 611.6 248.3 610.9 250.7C610.3 253.0 609.2 255.3 607.9 257.1C606.6 258.9 605.0 260.5 603.4 261.5C601.7 262.5 599.8 263.0 598.0 263.0C596.2 263.0 594.3 262.5 592.6 261.5C591.0 260.5 589.4 258.9 588.1 257.1C586.8 255.3 585.7 253.0 585.1 250.7C584.4 248.3 584.0 245.6 584.0 243.0C584.0 240.4 584.4 237.7 585.1 235.3C585.7 233.0 586.8 230.7 588.1 228.9C589.4 227.1 591.0 225.5 592.6 224.5C594.3 223.5 596.2 223.0 598.0 223.0C599.8 223.0 601.7 223.5 603.4 224.5C605.0 225.5 606.6 227.1 607.9 228.9C609.2 230.7 610.3 233.0 610.9 235.3C611.6 237.7 612.0 240.4 612.0 243.0Z"/>
<path fill="#88ca68" d="M665.0 277.0C665.0 280.6 664.2 284.4 662.9 287.7C661.5 291.0 659.3 294.3 656.8 296.8C654.3 299.3 651.0 301.5 647.7 302.9C644.4 304.2 640.6 305.0 637.0 305.0C633.4 305.0 629.6 304.2 626.3 302.9C623.0 301.5 619.7 299.3 617.2 296.8C614.7 294.3 612.5 291.0 611.1 287.7C609.8 284.4 609.0 280.6 609.0 277.0C609.0 273.4 609.8 269.6 611.1 266.3C612.5 263.0 614.7 259.7 617.2 257.2C619.7 254.7 623.0 252.5 626.3 251.1C629.6 249.8 633.4 249.0 637.0 249.0C640.6 249.0 644.4 249.8 647.7 251.1C651.0 252.5 654.3 254.7 656.8 257.2C659.3 259.7 661.5 263.0 662.9 266.3C664.2 269.6 665.0 273.4 665.0 277.0Z"/>
<path fill="#a7d890" d="M600.0 335.0C603.0 325.8 626.7 320.0 640.0 310.0C653.3 300.0 666.7 285.0 680.0 275.0C693.3 265.0 706.7 255.8 720.0 250.0C733.3 244.2 743.3 237.5 760.0 240.0C776.7 242.5 800.8 257.0 820.0 265.0C839.2 273.0 865.5 277.2 875.0 288.0C884.5 298.8 879.2 314.7 877.0 330.0C874.8 345.3 866.5 365.0 862.0 380.0C857.5 395.0 855.3 405.8 850.0 420.0C844.7 434.2 836.7 451.7 830.0 465.0C823.3 478.3 817.5 487.5 810.0 500.0C802.5 512.5 792.5 525.0 785.0 540.0C777.5 555.0 772.5 575.8 765.0 590.0C757.5 604.2 750.8 617.5 740.0 625.0C729.2 632.5 714.2 636.7 700.0 635.0C685.8 633.3 667.5 625.8 655.0 615.0C642.5 604.2 632.2 585.8 625.0 570.0C617.8 554.2 613.7 538.3 612.0 520.0C610.3 501.7 612.8 476.7 615.0 460.0C617.2 443.3 623.8 435.8 625.0 420.0C626.2 404.2 626.2 379.2 622.0 365.0C617.8 350.8 597.0 344.2 600.0 335.0Z"/>
<path fill="#88ca68" d="M690.0 275.0C690.0 266.7 708.3 255.8 720.0 250.0C731.7 244.2 743.3 238.0 760.0 240.0C776.7 242.0 804.7 255.3 820.0 262.0C835.3 268.7 847.7 267.0 852.0 280.0C856.3 293.0 849.3 320.0 846.0 340.0C842.7 360.0 836.0 381.7 832.0 400.0C828.0 418.3 827.3 435.8 822.0 450.0C816.7 464.2 807.8 488.3 800.0 485.0C792.2 481.7 781.7 447.5 775.0 430.0C768.3 412.5 765.0 396.7 760.0 380.0C755.0 363.3 751.7 343.3 745.0 330.0C738.3 316.7 729.2 309.2 720.0 300.0C710.8 290.8 690.0 283.3 690.0 275.0Z"/>
<path fill="#6cc24a" d="M735.0 255.0C737.5 245.8 747.5 239.2 760.0 240.0C772.5 240.8 798.0 254.2 810.0 260.0C822.0 265.8 829.3 261.7 832.0 275.0C834.7 288.3 828.7 319.2 826.0 340.0C823.3 360.8 818.3 380.0 816.0 400.0C813.7 420.0 816.3 453.3 812.0 460.0C807.7 466.7 796.2 451.7 790.0 440.0C783.8 428.3 780.0 406.7 775.0 390.0C770.0 373.3 765.0 355.8 760.0 340.0C755.0 324.2 749.2 309.2 745.0 295.0C740.8 280.8 732.5 264.2 735.0 255.0Z"/>
<path fill="#30ad52" d="M750.0 245.0C760.8 240.0 792.3 245.8 800.0 260.0C807.7 274.2 795.5 306.7 796.0 330.0C796.5 353.3 798.7 381.7 803.0 400.0C807.3 418.3 821.5 427.0 822.0 440.0C822.5 453.0 813.8 481.3 806.0 478.0C798.2 474.7 783.5 441.3 775.0 420.0C766.5 398.7 761.7 371.7 755.0 350.0C748.3 328.3 735.8 307.5 735.0 290.0C734.2 272.5 739.2 250.0 750.0 245.0Z"/>
<path fill="#88ca68" d="M720.0 500.0C720.0 507.9 718.9 516.4 717.0 523.7C715.0 531.0 711.9 538.2 708.3 543.8C704.7 549.4 700.0 554.3 695.3 557.3C690.6 560.3 685.1 562.0 680.0 562.0C674.9 562.0 669.4 560.3 664.7 557.3C660.0 554.3 655.3 549.4 651.7 543.8C648.1 538.2 645.0 531.0 643.0 523.7C641.1 516.4 640.0 507.9 640.0 500.0C640.0 492.1 641.1 483.6 643.0 476.3C645.0 469.0 648.1 461.8 651.7 456.2C655.3 450.6 660.0 445.7 664.7 442.7C669.4 439.7 674.9 438.0 680.0 438.0C685.1 438.0 690.6 439.7 695.3 442.7C700.0 445.7 704.7 450.6 708.3 456.2C711.9 461.8 715.0 469.0 717.0 476.3C718.9 483.6 720.0 492.1 720.0 500.0Z"/>
<path fill="#6cc24a" d="M700.0 500.0C700.0 503.8 699.5 507.9 698.5 511.5C697.5 515.0 695.9 518.5 694.1 521.2C692.3 523.9 690.0 526.3 687.7 527.7C685.3 529.2 682.6 530.0 680.0 530.0C677.4 530.0 674.7 529.2 672.3 527.7C670.0 526.3 667.7 523.9 665.9 521.2C664.1 518.5 662.5 515.0 661.5 511.5C660.5 507.9 660.0 503.8 660.0 500.0C660.0 496.2 660.5 492.1 661.5 488.5C662.5 485.0 664.1 481.5 665.9 478.8C667.7 476.1 670.0 473.7 672.3 472.3C674.7 470.8 677.4 470.0 680.0 470.0C682.6 470.0 685.3 470.8 687.7 472.3C690.0 473.7 692.3 476.1 694.1 478.8C695.9 481.5 697.5 485.0 698.5 488.5C699.5 492.1 700.0 496.2 700.0 500.0Z"/>
<path fill="#30ad52" d="M688.0 500.0C688.0 501.3 687.8 502.6 687.4 503.8C687.0 505.0 686.4 506.2 685.7 507.1C684.9 508.0 684.0 508.8 683.1 509.2C682.1 509.7 681.0 510.0 680.0 510.0C679.0 510.0 677.9 509.7 676.9 509.2C676.0 508.8 675.1 508.0 674.3 507.1C673.6 506.2 673.0 505.0 672.6 503.8C672.2 502.6 672.0 501.3 672.0 500.0C672.0 498.7 672.2 497.4 672.6 496.2C673.0 495.0 673.6 493.8 674.3 492.9C675.1 492.0 676.0 491.2 676.9 490.8C677.9 490.3 679.0 490.0 680.0 490.0C681.0 490.0 682.1 490.3 683.1 490.8C684.0 491.2 684.9 492.0 685.7 492.9C686.4 493.8 687.0 495.0 687.4 496.2C687.8 497.4 688.0 498.7 688.0 500.0Z"/>
<path fill="#a7d890" d="M440.0 560.0C440.8 540.0 443.3 515.8 450.0 500.0C456.7 484.2 468.3 471.7 480.0 465.0C491.7 458.3 506.7 457.5 520.0 460.0C533.3 462.5 548.3 468.3 560.0 480.0C571.7 491.7 583.3 510.0 590.0 530.0C596.7 550.0 597.5 575.0 600.0 600.0C602.5 625.0 600.8 657.7 605.0 680.0C609.2 702.3 616.7 716.7 625.0 734.0C633.3 751.3 643.8 771.3 655.0 784.0C666.2 796.7 690.3 802.3 692.0 810.0C693.7 817.7 677.0 818.3 665.0 830.0C653.0 841.7 635.8 866.7 620.0 880.0C604.2 893.3 586.7 901.7 570.0 910.0C553.3 918.3 536.0 924.0 520.0 930.0C504.0 936.0 479.3 952.7 474.0 946.0C468.7 939.3 485.3 912.0 488.0 890.0C490.7 868.0 490.5 843.3 490.0 814.0C489.5 784.7 489.2 739.7 485.0 714.0C480.8 688.3 471.7 675.7 465.0 660.0C458.3 644.3 449.2 636.7 445.0 620.0C440.8 603.3 439.2 580.0 440.0 560.0Z"/>
<path fill="#88ca68" d="M465.0 580.0C465.0 556.7 469.2 527.0 475.0 510.0C480.8 493.0 490.8 483.0 500.0 478.0C509.2 473.0 520.8 473.0 530.0 480.0C539.2 487.0 549.2 500.0 555.0 520.0C560.8 540.0 562.5 575.0 565.0 600.0C567.5 625.0 565.8 647.7 570.0 670.0C574.2 692.3 581.7 715.0 590.0 734.0C598.3 753.0 608.0 769.8 620.0 784.0C632.0 798.2 661.7 803.3 662.0 819.0C662.3 834.7 637.3 862.8 622.0 878.0C606.7 893.2 587.0 901.3 570.0 910.0C553.0 918.7 534.2 924.7 520.0 930.0C505.8 935.3 489.7 961.3 485.0 942.0C480.3 922.7 491.2 852.0 492.0 814.0C492.8 776.0 492.8 741.3 490.0 714.0C487.2 686.7 479.2 672.3 475.0 650.0C470.8 627.7 465.0 603.3 465.0 580.0Z"/>
<path fill="#6cc24a" d="M537.0 548.0C537.0 552.8 536.4 558.1 535.3 562.5C534.3 567.0 532.5 571.4 530.6 574.9C528.6 578.3 526.0 581.3 523.4 583.1C520.8 585.0 517.8 586.0 515.0 586.0C512.2 586.0 509.2 585.0 506.6 583.1C504.0 581.3 501.4 578.3 499.4 574.9C497.5 571.4 495.7 567.0 494.7 562.5C493.6 558.1 493.0 552.8 493.0 548.0C493.0 543.2 493.6 537.9 494.7 533.5C495.7 529.0 497.5 524.6 499.4 521.1C501.4 517.7 504.0 514.7 506.6 512.9C509.2 511.0 512.2 510.0 515.0 510.0C517.8 510.0 520.8 511.0 523.4 512.9C526.0 514.7 528.6 517.7 530.6 521.1C532.5 524.6 534.3 529.0 535.3 533.5C536.4 537.9 537.0 543.2 537.0 548.0Z"/>
<path fill="#30ad52" d="M523.0 545.0C523.0 546.5 522.8 548.2 522.4 549.6C522.0 551.0 521.4 552.4 520.7 553.5C519.9 554.6 519.0 555.5 518.1 556.1C517.1 556.7 516.0 557.0 515.0 557.0C514.0 557.0 512.9 556.7 511.9 556.1C511.0 555.5 510.1 554.6 509.3 553.5C508.6 552.4 508.0 551.0 507.6 549.6C507.2 548.2 507.0 546.5 507.0 545.0C507.0 543.5 507.2 541.8 507.6 540.4C508.0 539.0 508.6 537.6 509.3 536.5C510.1 535.4 511.0 534.5 511.9 533.9C512.9 533.3 514.0 533.0 515.0 533.0C516.0 533.0 517.1 533.3 518.1 533.9C519.0 534.5 519.9 535.4 520.7 536.5C521.4 537.6 522.0 539.0 522.4 540.4C522.8 541.8 523.0 543.5 523.0 545.0Z"/>
<path fill="#6cc24a" d="M520.0 784.4C526.7 777.7 546.7 771.1 560.0 774.4C573.3 777.7 586.3 795.2 600.0 804.4C613.7 813.6 640.0 816.1 642.0 829.4C644.0 842.7 624.0 870.2 612.0 884.4C600.0 898.6 582.0 908.4 570.0 914.4C558.0 920.4 547.5 928.7 540.0 920.4C532.5 912.1 528.3 882.1 525.0 864.4C521.7 846.7 520.8 827.7 520.0 814.4C519.2 801.1 513.3 791.1 520.0 784.4Z"/>
<path fill="#30ad52" d="M595.0 859.4C595.0 862.6 594.3 866.0 593.1 869.0C591.9 871.9 589.9 874.8 587.7 877.1C585.4 879.3 582.5 881.3 579.6 882.5C576.6 883.7 573.2 884.4 570.0 884.4C566.8 884.4 563.4 883.7 560.4 882.5C557.5 881.3 554.6 879.3 552.3 877.1C550.1 874.8 548.1 871.9 546.9 869.0C545.7 866.0 545.0 862.6 545.0 859.4C545.0 856.2 545.7 852.8 546.9 849.8C548.1 846.9 550.1 844.0 552.3 841.7C554.6 839.5 557.5 837.5 560.4 836.3C563.4 835.1 566.8 834.4 570.0 834.4C573.2 834.4 576.6 835.1 579.6 836.3C582.5 837.5 585.4 839.5 587.7 841.7C589.9 844.0 591.9 846.9 593.1 849.8C594.3 852.8 595.0 856.2 595.0 859.4Z"/>
</g>
<use href="#st" class="ol"/><use href="#isl" class="ol" style="stroke-width:14;stroke:#222"/><use href="#coast"/><use href="#cdots"/>
</g>
<text class="t" x="324.7" y="26.4">DIA 03</text>
<rect class="fr" x="275.45" y="34.50" width="98.45" height="130.35"/>
<g transform="translate(275.00 34.00) scale(0.09766)">
<g clip-path="url(#cp)">
<rect x="0" y="0" width="1024" height="1340" fill="#d9c986"/>
<path fill="#f19c66" d="M295.0 318.0C306.7 307.2 332.5 323.8 350.0 330.0C367.5 336.2 383.3 347.5 400.0 355.0C416.7 362.5 433.3 372.8 450.0 375.0C466.7 377.2 485.0 368.0 500.0 368.0C515.0 368.0 527.5 369.7 540.0 375.0C552.5 380.3 565.0 390.8 575.0 400.0C585.0 409.2 589.2 422.5 600.0 430.0C610.8 437.5 627.5 443.3 640.0 445.0C652.5 446.7 669.7 447.5 675.0 440.0C680.3 432.5 676.2 412.5 672.0 400.0C667.8 387.5 657.8 375.8 650.0 365.0C642.2 354.2 626.7 345.0 625.0 335.0C623.3 325.0 627.5 313.8 640.0 305.0C652.5 296.2 680.0 286.2 700.0 282.0C720.0 277.8 740.0 277.0 760.0 280.0C780.0 283.0 801.7 291.7 820.0 300.0C838.3 308.3 855.8 318.3 870.0 330.0C884.2 341.7 899.2 359.7 905.0 370.0C910.8 380.3 889.2 386.7 905.0 392.0C920.8 397.3 984.2 329.0 1000.0 402.0C1015.8 475.0 1037.5 758.7 1000.0 830.0C962.5 901.3 825.0 829.3 775.0 830.0C725.0 830.7 734.2 821.5 700.0 834.0C665.8 846.5 593.7 902.3 570.0 905.0C546.3 907.7 566.0 867.0 558.0 850.0C550.0 833.0 536.3 816.7 522.0 803.0C507.7 789.3 492.3 778.8 472.0 768.0C451.7 757.2 425.3 748.8 400.0 738.0C374.7 727.2 345.0 712.2 320.0 703.0C295.0 693.8 270.8 688.5 250.0 683.0C229.2 677.5 205.0 675.5 195.0 670.0C185.0 664.5 186.7 655.0 190.0 650.0C193.3 645.0 203.3 645.0 215.0 640.0C226.7 635.0 240.8 624.2 260.0 620.0C279.2 615.8 306.7 615.0 330.0 615.0C353.3 615.0 376.7 621.7 400.0 620.0C423.3 618.3 446.7 610.0 470.0 605.0C493.3 600.0 516.7 595.0 540.0 590.0C563.3 585.0 601.7 582.5 610.0 575.0C618.3 567.5 598.3 553.3 590.0 545.0C581.7 536.7 571.7 524.2 560.0 525.0C548.3 525.8 531.7 552.5 520.0 550.0C508.3 547.5 503.3 524.2 490.0 510.0C476.7 495.8 456.7 478.3 440.0 465.0C423.3 451.7 408.3 440.0 390.0 430.0C371.7 420.0 348.3 410.8 330.0 405.0C311.7 399.2 285.8 409.5 280.0 395.0C274.2 380.5 283.3 328.8 295.0 318.0Z"/>
<path fill="#bd4522" d="M308.0 328.0C315.3 323.3 335.5 333.8 340.0 340.0C344.5 346.2 342.3 360.3 335.0 365.0C327.7 369.7 300.5 374.2 296.0 368.0C291.5 361.8 300.7 332.7 308.0 328.0Z"/>
<path fill="#bd4522" d="M445.0 420.0C446.7 410.3 454.2 397.8 465.0 392.0C475.8 386.2 495.8 383.3 510.0 385.0C524.2 386.7 538.3 393.2 550.0 402.0C561.7 410.8 571.7 426.7 580.0 438.0C588.3 449.3 603.3 463.0 600.0 470.0C596.7 477.0 573.3 479.2 560.0 480.0C546.7 480.8 533.3 477.5 520.0 475.0C506.7 472.5 490.8 469.2 480.0 465.0C469.2 460.8 460.8 457.5 455.0 450.0C449.2 442.5 443.3 429.7 445.0 420.0Z"/>
<path fill="#bd4522" d="M560.0 440.0C567.5 437.7 593.3 453.3 610.0 458.0C626.7 462.7 643.3 466.0 660.0 468.0C676.7 470.0 693.3 472.2 710.0 470.0C726.7 467.8 750.0 453.3 760.0 455.0C770.0 456.7 771.7 472.5 770.0 480.0C768.3 487.5 761.7 497.0 750.0 500.0C738.3 503.0 716.7 499.7 700.0 498.0C683.3 496.3 666.7 493.0 650.0 490.0C633.3 487.0 614.2 483.0 600.0 480.0C585.8 477.0 571.7 478.7 565.0 472.0C558.3 465.3 552.5 442.3 560.0 440.0Z"/>
<path fill="#bd4522" d="M735.0 470.0C735.5 460.8 728.0 434.2 728.0 420.0C728.0 405.8 729.7 393.7 735.0 385.0C740.3 376.3 749.2 371.8 760.0 368.0C770.8 364.2 785.0 362.3 800.0 362.0C815.0 361.7 833.3 361.7 850.0 366.0C866.7 370.3 889.3 387.0 900.0 388.0C910.7 389.0 919.0 379.7 914.0 372.0C909.0 364.3 887.3 351.0 870.0 342.0C852.7 333.0 830.0 324.5 810.0 318.0C790.0 311.5 768.3 306.3 750.0 303.0C731.7 299.7 711.3 295.5 700.0 298.0C688.7 300.5 683.7 307.7 682.0 318.0C680.3 328.3 685.7 344.7 690.0 360.0C694.3 375.3 704.3 395.0 708.0 410.0C711.7 425.0 709.2 439.2 712.0 450.0C714.8 460.8 721.2 471.7 725.0 475.0C728.8 478.3 734.5 479.2 735.0 470.0Z"/>
<path fill="#bd4522" d="M315.0 667.0C316.7 658.5 332.5 650.5 350.0 648.0C367.5 645.5 395.0 648.0 420.0 652.0C445.0 656.0 476.7 669.3 500.0 672.0C523.3 674.7 536.7 672.0 560.0 668.0C583.3 664.0 616.7 659.3 640.0 648.0C663.3 636.7 691.7 614.7 700.0 600.0C708.3 585.3 686.7 569.2 690.0 560.0C693.3 550.8 706.7 546.7 720.0 545.0C733.3 543.3 755.8 544.2 770.0 550.0C784.2 555.8 793.3 568.3 805.0 580.0C816.7 591.7 834.2 610.0 840.0 620.0C845.8 630.0 850.0 635.3 840.0 640.0C830.0 644.7 800.0 644.0 780.0 648.0C760.0 652.0 740.0 658.7 720.0 664.0C700.0 669.3 677.5 674.8 660.0 680.0C642.5 685.2 618.3 686.0 615.0 695.0C611.7 704.0 629.2 720.8 640.0 734.0C650.8 747.2 668.7 760.7 680.0 774.0C691.3 787.3 711.3 804.7 708.0 814.0C704.7 823.3 674.7 824.0 660.0 830.0C645.3 836.0 630.7 843.0 620.0 850.0C609.3 857.0 604.0 873.3 596.0 872.0C588.0 870.7 572.7 854.0 572.0 842.0C571.3 830.0 585.3 811.7 592.0 800.0C598.7 788.3 613.2 782.3 612.0 772.0C610.8 761.7 593.7 746.0 585.0 738.0C576.3 730.0 572.5 727.2 560.0 724.0C547.5 720.8 530.0 722.3 510.0 719.0C490.0 715.7 461.7 704.8 440.0 704.0C418.3 703.2 396.7 714.8 380.0 714.0C363.3 713.2 350.8 706.8 340.0 699.0C329.2 691.2 313.3 675.5 315.0 667.0Z"/>
<path fill="#ffffff" d="M528.8 442.8C528.3 444.2 527.3 445.4 525.9 446.3C524.6 447.2 522.7 447.8 520.6 448.1C518.6 448.5 516.1 448.5 513.7 448.2C511.3 447.9 508.6 447.2 506.2 446.3C503.8 445.5 501.4 444.2 499.3 442.9C497.3 441.6 495.4 440.0 494.1 438.5C492.7 436.9 491.7 435.2 491.2 433.6C490.7 432.1 490.7 430.5 491.2 429.2C491.7 427.8 492.7 426.6 494.1 425.7C495.4 424.8 497.3 424.2 499.4 423.9C501.4 423.5 503.9 423.5 506.3 423.8C508.7 424.1 511.4 424.8 513.8 425.7C516.2 426.5 518.6 427.8 520.7 429.1C522.7 430.4 524.6 432.0 525.9 433.5C527.3 435.1 528.3 436.8 528.8 438.4C529.3 439.9 529.3 441.5 528.8 442.8Z"/>
<path fill="#ffffff" d="M748.0 395.0C756.7 389.5 783.0 383.8 800.0 382.0C817.0 380.2 834.5 382.0 850.0 384.0C865.5 386.0 868.0 390.8 893.0 394.0C918.0 397.2 1007.2 397.0 1000.0 403.0C992.8 409.0 876.7 413.8 850.0 430.0C823.3 446.2 842.5 479.0 840.0 500.0C837.5 521.0 846.7 546.7 835.0 556.0C823.3 565.3 789.2 557.0 770.0 556.0C750.8 555.0 738.3 554.0 720.0 550.0C701.7 546.0 678.3 539.8 660.0 532.0C641.7 524.2 625.8 512.7 610.0 503.0C594.2 493.3 566.7 479.5 565.0 474.0C563.3 468.5 585.8 468.7 600.0 470.0C614.2 471.3 633.3 478.3 650.0 482.0C666.7 485.7 684.2 489.5 700.0 492.0C715.8 494.5 733.7 498.7 745.0 497.0C756.3 495.3 765.5 490.7 768.0 482.0C770.5 473.3 763.3 456.2 760.0 445.0C756.7 433.8 750.0 423.3 748.0 415.0C746.0 406.7 739.3 400.5 748.0 395.0Z"/>
<path fill="#ffffff" d="M403.0 700.0C403.0 701.7 402.3 703.4 401.1 705.0C399.9 706.5 397.9 708.0 395.7 709.2C393.4 710.4 390.5 711.4 387.6 712.0C384.6 712.6 381.2 713.0 378.0 713.0C374.8 713.0 371.4 712.6 368.4 712.0C365.5 711.4 362.6 710.4 360.3 709.2C358.1 708.0 356.1 706.5 354.9 705.0C353.7 703.4 353.0 701.7 353.0 700.0C353.0 698.3 353.7 696.6 354.9 695.0C356.1 693.5 358.1 692.0 360.3 690.8C362.6 689.6 365.5 688.6 368.4 688.0C371.4 687.4 374.8 687.0 378.0 687.0C381.2 687.0 384.6 687.4 387.6 688.0C390.5 688.6 393.4 689.6 395.7 690.8C397.9 692.0 399.9 693.5 401.1 695.0C402.3 696.6 403.0 698.3 403.0 700.0Z"/>
<path fill="#ffffff" d="M610.0 694.0C613.3 684.8 641.7 684.0 660.0 679.0C678.3 674.0 700.0 669.8 720.0 664.0C740.0 658.2 733.3 651.3 780.0 644.0C826.7 636.7 963.3 587.3 1000.0 620.0C1036.7 652.7 1043.3 803.7 1000.0 840.0C956.7 876.3 789.2 842.3 740.0 838.0C690.8 833.7 715.0 824.7 705.0 814.0C695.0 803.3 690.8 787.3 680.0 774.0C669.2 760.7 651.7 747.3 640.0 734.0C628.3 720.7 606.7 703.2 610.0 694.0Z"/>
<path fill="#a7d890" d="M385.0 90.0C398.3 81.7 421.7 81.7 440.0 90.0C458.3 98.3 481.7 121.7 495.0 140.0C508.3 158.3 516.7 180.8 520.0 200.0C523.3 219.2 521.7 238.7 515.0 255.0C508.3 271.3 495.0 288.8 480.0 298.0C465.0 307.2 443.3 310.3 425.0 310.0C406.7 309.7 385.8 303.0 370.0 296.0C354.2 289.0 334.2 287.3 330.0 268.0C325.8 248.7 340.0 201.3 345.0 180.0C350.0 158.7 353.3 155.0 360.0 140.0C366.7 125.0 371.7 98.3 385.0 90.0Z"/>
<path fill="#88ca68" d="M378.0 95.0C389.0 91.7 416.0 108.3 430.0 120.0C444.0 131.7 456.2 149.2 462.0 165.0C467.8 180.8 469.5 200.8 465.0 215.0C460.5 229.2 448.3 242.8 435.0 250.0C421.7 257.2 400.8 258.3 385.0 258.0C369.2 257.7 345.8 261.0 340.0 248.0C334.2 235.0 346.0 198.0 350.0 180.0C354.0 162.0 359.3 154.2 364.0 140.0C368.7 125.8 367.0 98.3 378.0 95.0Z"/>
<path fill="#6cc24a" d="M370.0 100.0C378.0 97.0 398.8 118.7 408.0 132.0C417.2 145.3 425.5 166.7 425.0 180.0C424.5 193.3 417.2 206.2 405.0 212.0C392.8 217.8 359.5 225.3 352.0 215.0C344.5 204.7 357.0 169.2 360.0 150.0C363.0 130.8 362.0 103.0 370.0 100.0Z"/>
<path fill="#a7d890" d="M245.0 480.0C246.7 470.0 265.8 460.0 280.0 460.0C294.2 460.0 314.2 471.7 330.0 480.0C345.8 488.3 368.3 501.7 375.0 510.0C381.7 518.3 379.2 525.0 370.0 530.0C360.8 535.0 336.7 541.7 320.0 540.0C303.3 538.3 282.5 530.0 270.0 520.0C257.5 510.0 243.3 490.0 245.0 480.0Z"/>
<path fill="#a7d890" d="M190.0 716.0C210.0 691.0 236.7 724.0 260.0 730.0C283.3 736.0 306.7 743.0 330.0 752.0C353.3 761.0 378.3 772.7 400.0 784.0C421.7 795.3 441.7 806.3 460.0 820.0C478.3 833.7 497.0 850.0 510.0 866.0C523.0 882.0 544.7 901.2 538.0 916.0C531.3 930.8 484.7 937.7 470.0 955.0C455.3 972.3 460.0 995.2 450.0 1020.0C440.0 1044.8 411.7 1076.7 410.0 1104.0C408.3 1131.3 437.0 1162.3 440.0 1184.0C443.0 1205.7 445.5 1225.7 428.0 1234.0C410.5 1242.3 366.3 1251.3 335.0 1234.0C303.7 1216.7 239.2 1169.0 240.0 1130.0C240.8 1091.0 340.0 1022.5 340.0 1000.0C340.0 977.5 273.3 1015.0 240.0 995.0C206.7 975.0 148.3 926.5 140.0 880.0C131.7 833.5 170.0 741.0 190.0 716.0Z"/>
<path fill="#f19c66" d="M335.0 1278.0C348.3 1273.8 395.0 1271.3 410.0 1275.0C425.0 1278.7 438.3 1295.8 425.0 1300.0C411.7 1304.2 345.0 1303.7 330.0 1300.0C315.0 1296.3 321.7 1282.2 335.0 1278.0Z"/>
<path fill="#88ca68" d="M212.0 754.0C227.3 747.3 272.0 759.0 300.0 764.0C328.0 769.0 356.7 774.0 380.0 784.0C403.3 794.0 421.7 809.0 440.0 824.0C458.3 839.0 480.0 859.0 490.0 874.0C500.0 889.0 502.7 901.5 500.0 914.0C497.3 926.5 481.0 937.3 474.0 949.0C467.0 960.7 463.3 971.5 458.0 984.0C452.7 996.5 451.7 1015.7 442.0 1024.0C432.3 1032.3 417.0 1035.7 400.0 1034.0C383.0 1032.3 360.0 1024.0 340.0 1014.0C320.0 1004.0 295.0 989.0 280.0 974.0C265.0 959.0 259.2 942.3 250.0 924.0C240.8 905.7 232.0 884.0 225.0 864.0C218.0 844.0 210.2 822.3 208.0 804.0C205.8 785.7 196.7 760.7 212.0 754.0Z"/>
<path fill="#6cc24a" d="M469.2 916.6C465.5 924.7 458.5 932.1 450.0 937.2C441.4 942.3 429.8 945.9 417.8 947.2C405.7 948.6 391.3 947.8 377.6 945.2C363.8 942.6 348.7 937.6 335.4 931.4C322.1 925.2 308.6 916.8 297.8 908.0C286.9 899.2 277.1 888.6 270.4 878.5C263.7 868.4 259.0 857.2 257.4 847.4C255.8 837.5 257.0 827.5 260.8 819.4C264.5 811.3 271.5 803.9 280.0 798.8C288.6 793.7 300.2 790.1 312.2 788.8C324.3 787.4 338.7 788.2 352.4 790.8C366.2 793.4 381.3 798.4 394.6 804.6C407.9 810.8 421.4 819.2 432.2 828.0C443.1 836.8 452.9 847.4 459.6 857.5C466.3 867.6 471.0 878.8 472.6 888.6C474.2 898.5 473.0 908.5 469.2 916.6Z"/>
<path fill="#30ad52" d="M442.5 893.8C440.1 899.0 435.5 903.7 429.7 906.8C423.9 910.0 416.1 912.1 407.8 912.7C399.6 913.4 389.6 912.6 380.2 910.6C370.7 908.6 360.2 905.1 351.0 900.8C341.7 896.5 332.3 890.7 324.7 884.7C317.1 878.8 310.1 871.7 305.3 864.9C300.5 858.2 297.0 850.8 295.7 844.4C294.4 837.9 295.1 831.4 297.5 826.2C299.9 821.0 304.5 816.3 310.3 813.2C316.1 810.0 323.9 807.9 332.2 807.3C340.4 806.6 350.4 807.4 359.8 809.4C369.3 811.4 379.8 814.9 389.0 819.2C398.3 823.5 407.7 829.3 415.3 835.3C422.9 841.2 429.9 848.3 434.7 855.1C439.5 861.8 443.0 869.2 444.3 875.6C445.6 882.1 444.9 888.6 442.5 893.8Z"/>
<path fill="#22a055" d="M415.3 879.1C413.9 882.3 411.1 885.0 407.5 886.9C403.9 888.7 399.1 889.9 394.0 890.2C388.9 890.5 382.7 890.0 376.8 888.7C370.9 887.4 364.4 885.2 358.6 882.5C352.8 879.8 346.9 876.2 342.1 872.5C337.3 868.8 332.9 864.5 329.9 860.4C326.8 856.2 324.6 851.8 323.8 847.8C322.9 843.9 323.2 840.0 324.7 836.9C326.1 833.7 328.9 831.0 332.5 829.1C336.1 827.3 340.9 826.1 346.0 825.8C351.1 825.5 357.3 826.0 363.2 827.3C369.1 828.6 375.6 830.8 381.4 833.5C387.2 836.2 393.1 839.8 397.9 843.5C402.7 847.2 407.1 851.5 410.1 855.6C413.2 859.8 415.4 864.2 416.2 868.2C417.1 872.1 416.8 876.0 415.3 879.1Z"/>
<path fill="#6f8a84" d="M381.0 856.0C381.0 856.6 380.8 857.3 380.5 857.9C380.3 858.5 379.8 859.1 379.2 859.5C378.7 860.0 378.0 860.4 377.3 860.6C376.6 860.9 375.8 861.0 375.0 861.0C374.2 861.0 373.4 860.9 372.7 860.6C372.0 860.4 371.3 860.0 370.8 859.5C370.2 859.1 369.7 858.5 369.5 857.9C369.2 857.3 369.0 856.6 369.0 856.0C369.0 855.4 369.2 854.7 369.5 854.1C369.7 853.5 370.2 852.9 370.8 852.5C371.3 852.0 372.0 851.6 372.7 851.4C373.4 851.1 374.2 851.0 375.0 851.0C375.8 851.0 376.6 851.1 377.3 851.4C378.0 851.6 378.7 852.0 379.2 852.5C379.8 852.9 380.3 853.5 380.5 854.1C380.8 854.7 381.0 855.4 381.0 856.0Z"/>
<path fill="#d9c986" d="M150.0 870.0C153.3 857.5 187.5 848.3 205.0 850.0C222.5 851.7 244.5 867.5 255.0 880.0C265.5 892.5 272.2 913.3 268.0 925.0C263.8 936.7 243.8 950.0 230.0 950.0C216.2 950.0 198.3 938.3 185.0 925.0C171.7 911.7 146.7 882.5 150.0 870.0Z"/>
<path fill="#f19c66" d="M155.0 876.0C155.8 867.7 185.8 861.8 200.0 864.0C214.2 866.2 231.7 879.8 240.0 889.0C248.3 898.2 252.5 911.5 250.0 919.0C247.5 926.5 234.2 934.8 225.0 934.0C215.8 933.2 206.7 923.7 195.0 914.0C183.3 904.3 154.2 884.3 155.0 876.0Z"/>
</g>
<use href="#st" class="ol"/><use href="#isl" class="ol" style="stroke-width:14;stroke:#222"/><use href="#coast"/><use href="#cdots"/>
</g>
<text class="t" x="451.4" y="27.4">DIA 04</text>
<rect class="fr" x="403.45" y="34.50" width="98.45" height="130.35"/>
<g transform="translate(403.00 34.00) scale(0.09766)">
<g clip-path="url(#cp)">
<rect x="0" y="0" width="1024" height="1340" fill="#88ca68"/>
<path fill="#a7d890" d="M10.0 660.0C10.0 652.5 71.7 605.8 100.0 585.0C128.3 564.2 156.7 552.5 180.0 535.0C203.3 517.5 230.8 475.8 240.0 480.0C249.2 484.2 233.3 536.7 235.0 560.0C236.7 583.3 250.8 601.7 250.0 620.0C249.2 638.3 240.0 664.2 230.0 670.0C220.0 675.8 211.7 661.7 190.0 655.0C168.3 648.3 130.0 629.2 100.0 630.0C70.0 630.8 10.0 667.5 10.0 660.0Z"/>
<path fill="#6cc24a" d="M385.0 100.0C374.7 120.0 376.3 170.0 368.0 200.0C359.7 230.0 348.8 255.0 335.0 280.0C321.2 305.0 302.2 326.7 285.0 350.0C267.8 373.3 245.3 395.0 232.0 420.0C218.7 445.0 208.7 473.3 205.0 500.0C201.3 526.7 202.5 554.2 210.0 580.0C217.5 605.8 231.7 635.8 250.0 655.0C268.3 674.2 295.0 690.0 320.0 695.0C345.0 700.0 378.3 693.3 400.0 685.0C421.7 676.7 433.3 650.0 450.0 645.0C466.7 640.0 482.5 658.3 500.0 655.0C517.5 651.7 541.7 640.8 555.0 625.0C568.3 609.2 575.0 589.2 580.0 560.0C585.0 530.8 587.5 480.0 585.0 450.0C582.5 420.0 570.8 400.0 565.0 380.0C559.2 360.0 552.5 350.0 550.0 330.0C547.5 310.0 550.8 281.7 550.0 260.0C549.2 238.3 546.7 218.3 545.0 200.0C543.3 181.7 542.5 166.7 540.0 150.0C537.5 133.3 536.7 103.3 530.0 100.0C523.3 96.7 508.3 130.0 500.0 130.0C491.7 130.0 491.7 108.3 480.0 100.0C468.3 91.7 445.8 80.0 430.0 80.0C414.2 80.0 395.3 80.0 385.0 100.0Z"/>
<path fill="#a7d890" d="M520.0 270.0C527.5 265.0 558.7 270.0 570.0 280.0C581.3 290.0 586.7 310.0 588.0 330.0C589.3 350.0 583.5 386.7 578.0 400.0C572.5 413.3 561.3 416.7 555.0 410.0C548.7 403.3 545.0 376.7 540.0 360.0C535.0 343.3 528.3 325.0 525.0 310.0C521.7 295.0 512.5 275.0 520.0 270.0Z"/>
<path fill="#30ad52" d="M238.0 425.0C245.8 403.3 259.7 377.2 275.0 360.0C290.3 342.8 312.5 330.3 330.0 322.0C347.5 313.7 366.3 317.8 380.0 310.0C393.7 302.2 405.0 289.2 412.0 275.0C419.0 260.8 418.7 243.3 422.0 225.0C425.3 206.7 426.5 182.8 432.0 165.0C437.5 147.2 445.3 124.7 455.0 118.0C464.7 111.3 480.0 118.0 490.0 125.0C500.0 132.0 510.3 146.7 515.0 160.0C519.7 173.3 519.2 187.5 518.0 205.0C516.8 222.5 511.3 245.0 508.0 265.0C504.7 285.0 501.0 305.8 498.0 325.0C495.0 344.2 496.3 365.0 490.0 380.0C483.7 395.0 469.7 403.3 460.0 415.0C450.3 426.7 436.7 431.7 432.0 450.0C427.3 468.3 433.3 500.0 432.0 525.0C430.7 550.0 431.8 578.3 424.0 600.0C416.2 621.7 402.3 643.7 385.0 655.0C367.7 666.3 339.5 671.3 320.0 668.0C300.5 664.7 281.3 652.2 268.0 635.0C254.7 617.8 246.7 589.2 240.0 565.0C233.3 540.8 228.3 513.3 228.0 490.0C227.7 466.7 230.2 446.7 238.0 425.0Z"/>
<path fill="#30ad52" d="M552.0 490.0C552.0 504.0 550.6 519.1 548.0 532.1C545.5 545.1 541.5 557.9 536.8 567.8C532.1 577.7 526.0 586.3 519.9 591.6C513.8 597.0 506.6 600.0 500.0 600.0C493.4 600.0 486.2 597.0 480.1 591.6C474.0 586.3 467.9 577.7 463.2 567.8C458.5 557.9 454.5 545.1 452.0 532.1C449.4 519.1 448.0 504.0 448.0 490.0C448.0 476.0 449.4 460.9 452.0 447.9C454.5 434.9 458.5 422.1 463.2 412.2C467.9 402.3 474.0 393.7 480.1 388.4C486.2 383.0 493.4 380.0 500.0 380.0C506.6 380.0 513.8 383.0 519.9 388.4C526.0 393.7 532.1 402.3 536.8 412.2C541.5 422.1 545.5 434.9 548.0 447.9C550.6 460.9 552.0 476.0 552.0 490.0Z"/>
<path fill="#22a055" d="M255.0 420.0C262.5 400.0 275.8 383.3 290.0 370.0C304.2 356.7 323.3 346.7 340.0 340.0C356.7 333.3 375.0 338.3 390.0 330.0C405.0 321.7 421.7 306.7 430.0 290.0C438.3 273.3 436.7 250.0 440.0 230.0C443.3 210.0 445.0 185.8 450.0 170.0C455.0 154.2 463.3 137.5 470.0 135.0C476.7 132.5 485.0 144.2 490.0 155.0C495.0 165.8 500.0 182.5 500.0 200.0C500.0 217.5 493.3 240.0 490.0 260.0C486.7 280.0 483.3 301.7 480.0 320.0C476.7 338.3 476.7 356.7 470.0 370.0C463.3 383.3 449.2 388.3 440.0 400.0C430.8 411.7 419.2 420.0 415.0 440.0C410.8 460.0 416.5 495.0 415.0 520.0C413.5 545.0 413.5 570.0 406.0 590.0C398.5 610.0 384.3 630.0 370.0 640.0C355.7 650.0 335.0 653.3 320.0 650.0C305.0 646.7 290.8 635.0 280.0 620.0C269.2 605.0 260.8 581.7 255.0 560.0C249.2 538.3 245.0 513.3 245.0 490.0C245.0 466.7 247.5 440.0 255.0 420.0Z"/>
<path fill="#22a055" d="M542.0 490.0C542.0 502.2 540.9 515.4 538.8 526.7C536.8 538.1 533.5 549.2 529.7 557.9C525.9 566.5 521.0 574.0 516.1 578.7C511.1 583.4 505.4 586.0 500.0 586.0C494.6 586.0 488.9 583.4 483.9 578.7C479.0 574.0 474.1 566.5 470.3 557.9C466.5 549.2 463.2 538.1 461.2 526.7C459.1 515.4 458.0 502.2 458.0 490.0C458.0 477.8 459.1 464.6 461.2 453.3C463.2 441.9 466.5 430.8 470.3 422.1C474.1 413.5 479.0 406.0 483.9 401.3C488.9 396.6 494.6 394.0 500.0 394.0C505.4 394.0 511.1 396.6 516.1 401.3C521.0 406.0 525.9 413.5 529.7 422.1C533.5 430.8 536.8 441.9 538.8 453.3C540.9 464.6 542.0 477.8 542.0 490.0Z"/>
<path fill="#6f8a84" d="M400.0 502.0C400.0 516.7 398.2 532.5 395.1 546.0C391.9 559.6 386.8 572.9 381.0 583.3C375.1 593.7 367.5 602.6 359.9 608.2C352.2 613.9 343.3 617.0 335.0 617.0C326.7 617.0 317.8 613.9 310.1 608.2C302.5 602.6 294.9 593.7 289.0 583.3C283.2 572.9 278.1 559.6 274.9 546.0C271.8 532.5 270.0 516.7 270.0 502.0C270.0 487.3 271.8 471.5 274.9 458.0C278.1 444.4 283.2 431.1 289.0 420.7C294.9 410.3 302.5 401.4 310.1 395.8C317.8 390.1 326.7 387.0 335.0 387.0C343.3 387.0 352.2 390.1 359.9 395.8C367.5 401.4 375.1 410.3 381.0 420.7C386.8 431.1 391.9 444.4 395.1 458.0C398.2 471.5 400.0 487.3 400.0 502.0Z"/>
<path fill="#6f8a84" d="M530.0 482.0C530.0 491.2 529.2 501.1 527.7 509.6C526.3 518.0 523.9 526.4 521.2 532.9C518.5 539.4 515.0 545.0 511.5 548.5C507.9 552.0 503.8 554.0 500.0 554.0C496.2 554.0 492.1 552.0 488.5 548.5C485.0 545.0 481.5 539.4 478.8 532.9C476.1 526.4 473.7 518.0 472.3 509.6C470.8 501.1 470.0 491.2 470.0 482.0C470.0 472.8 470.8 462.9 472.3 454.4C473.7 446.0 476.1 437.6 478.8 431.1C481.5 424.6 485.0 419.0 488.5 415.5C492.1 412.0 496.2 410.0 500.0 410.0C503.8 410.0 507.9 412.0 511.5 415.5C515.0 419.0 518.5 424.6 521.2 431.1C523.9 437.6 526.3 446.0 527.7 454.4C529.2 462.9 530.0 472.8 530.0 482.0Z"/>
<path fill="#8373c8" d="M385.0 505.0C385.0 517.1 383.6 530.2 381.2 541.4C378.8 552.6 374.9 563.6 370.4 572.2C365.8 580.7 360.0 588.1 354.1 592.8C348.2 597.4 341.4 600.0 335.0 600.0C328.6 600.0 321.8 597.4 315.9 592.8C310.0 588.1 304.2 580.7 299.6 572.2C295.1 563.6 291.2 552.6 288.8 541.4C286.4 530.2 285.0 517.1 285.0 505.0C285.0 492.9 286.4 479.8 288.8 468.6C291.2 457.4 295.1 446.4 299.6 437.8C304.2 429.3 310.0 421.9 315.9 417.2C321.8 412.6 328.6 410.0 335.0 410.0C341.4 410.0 348.2 412.6 354.1 417.2C360.0 421.9 365.8 429.3 370.4 437.8C374.9 446.4 378.8 457.4 381.2 468.6C383.6 479.8 385.0 492.9 385.0 505.0Z"/>
<path fill="#8373c8" d="M522.0 465.0C522.0 471.4 521.4 478.2 520.3 484.1C519.3 490.0 517.5 495.8 515.6 500.4C513.6 504.9 511.0 508.8 508.4 511.2C505.8 513.6 502.8 515.0 500.0 515.0C497.2 515.0 494.2 513.6 491.6 511.2C489.0 508.8 486.4 504.9 484.4 500.4C482.5 495.8 480.7 490.0 479.7 484.1C478.6 478.2 478.0 471.4 478.0 465.0C478.0 458.6 478.6 451.8 479.7 445.9C480.7 440.0 482.5 434.2 484.4 429.6C486.4 425.1 489.0 421.2 491.6 418.8C494.2 416.4 497.2 415.0 500.0 415.0C502.8 415.0 505.8 416.4 508.4 418.8C511.0 421.2 513.6 425.1 515.6 429.6C517.5 434.2 519.3 440.0 520.3 445.9C521.4 451.8 522.0 458.6 522.0 465.0Z"/>
<path fill="#6a58b0" d="M365.0 500.0C365.0 506.4 364.2 513.2 362.7 519.1C361.3 525.0 358.9 530.8 356.2 535.4C353.5 539.9 350.0 543.8 346.5 546.2C342.9 548.6 338.8 550.0 335.0 550.0C331.2 550.0 327.1 548.6 323.5 546.2C320.0 543.8 316.5 539.9 313.8 535.4C311.1 530.8 308.7 525.0 307.3 519.1C305.8 513.2 305.0 506.4 305.0 500.0C305.0 493.6 305.8 486.8 307.3 480.9C308.7 475.0 311.1 469.2 313.8 464.6C316.5 460.1 320.0 456.2 323.5 453.8C327.1 451.4 331.2 450.0 335.0 450.0C338.8 450.0 342.9 451.4 346.5 453.8C350.0 456.2 353.5 460.1 356.2 464.6C358.9 469.2 361.3 475.0 362.7 480.9C364.2 486.8 365.0 493.6 365.0 500.0Z"/>
<path fill="#3d4e82" d="M344.0 510.0C344.0 511.5 343.8 513.2 343.3 514.6C342.9 516.0 342.2 517.4 341.4 518.5C340.6 519.6 339.5 520.5 338.4 521.1C337.4 521.7 336.1 522.0 335.0 522.0C333.9 522.0 332.6 521.7 331.6 521.1C330.5 520.5 329.4 519.6 328.6 518.5C327.8 517.4 327.1 516.0 326.7 514.6C326.2 513.2 326.0 511.5 326.0 510.0C326.0 508.5 326.2 506.8 326.7 505.4C327.1 504.0 327.8 502.6 328.6 501.5C329.4 500.4 330.5 499.5 331.6 498.9C332.6 498.3 333.9 498.0 335.0 498.0C336.1 498.0 337.4 498.3 338.4 498.9C339.5 499.5 340.6 500.4 341.4 501.5C342.2 502.6 342.9 504.0 343.3 505.4C343.8 506.8 344.0 508.5 344.0 510.0Z"/>
<path fill="#6f8a84" d="M443.0 365.0C443.0 366.0 442.8 367.1 442.4 368.1C442.0 369.0 441.4 369.9 440.7 370.7C439.9 371.4 439.0 372.0 438.1 372.4C437.1 372.8 436.0 373.0 435.0 373.0C434.0 373.0 432.9 372.8 431.9 372.4C431.0 372.0 430.1 371.4 429.3 370.7C428.6 369.9 428.0 369.0 427.6 368.1C427.2 367.1 427.0 366.0 427.0 365.0C427.0 364.0 427.2 362.9 427.6 361.9C428.0 361.0 428.6 360.1 429.3 359.3C430.1 358.6 431.0 358.0 431.9 357.6C432.9 357.2 434.0 357.0 435.0 357.0C436.0 357.0 437.1 357.2 438.1 357.6C439.0 358.0 439.9 358.6 440.7 359.3C441.4 360.1 442.0 361.0 442.4 361.9C442.8 362.9 443.0 364.0 443.0 365.0Z"/>
<path fill="#d9c986" d="M450.0 465.0C450.0 468.2 449.7 471.6 449.2 474.6C448.8 477.5 448.0 480.4 447.1 482.7C446.2 484.9 445.0 486.9 443.8 488.1C442.6 489.3 441.3 490.0 440.0 490.0C438.7 490.0 437.4 489.3 436.2 488.1C435.0 486.9 433.8 484.9 432.9 482.7C432.0 480.4 431.2 477.5 430.8 474.6C430.3 471.6 430.0 468.2 430.0 465.0C430.0 461.8 430.3 458.4 430.8 455.4C431.2 452.5 432.0 449.6 432.9 447.3C433.8 445.1 435.0 443.1 436.2 441.9C437.4 440.7 438.7 440.0 440.0 440.0C441.3 440.0 442.6 440.7 443.8 441.9C445.0 443.1 446.2 445.1 447.1 447.3C448.0 449.6 448.8 452.5 449.2 455.4C449.7 458.4 450.0 461.8 450.0 465.0Z"/>
<path fill="#d9c986" d="M518.0 372.0C518.0 375.8 517.5 379.9 516.6 383.5C515.8 387.0 514.4 390.5 512.7 393.2C511.1 395.9 509.0 398.3 506.9 399.7C504.8 401.2 502.3 402.0 500.0 402.0C497.7 402.0 495.2 401.2 493.1 399.7C491.0 398.3 488.9 395.9 487.3 393.2C485.6 390.5 484.2 387.0 483.4 383.5C482.5 379.9 482.0 375.8 482.0 372.0C482.0 368.2 482.5 364.1 483.4 360.5C484.2 357.0 485.6 353.5 487.3 350.8C488.9 348.1 491.0 345.7 493.1 344.3C495.2 342.8 497.7 342.0 500.0 342.0C502.3 342.0 504.8 342.8 506.9 344.3C509.0 345.7 511.1 348.1 512.7 350.8C514.4 353.5 515.8 357.0 516.6 360.5C517.5 364.1 518.0 368.2 518.0 372.0Z"/>
<path fill="#f19c66" d="M511.0 372.0C511.0 374.8 510.7 377.8 510.2 380.4C509.6 383.0 508.8 385.6 507.8 387.6C506.8 389.5 505.5 391.3 504.2 392.3C502.9 393.4 501.4 394.0 500.0 394.0C498.6 394.0 497.1 393.4 495.8 392.3C494.5 391.3 493.2 389.5 492.2 387.6C491.2 385.6 490.4 383.0 489.8 380.4C489.3 377.8 489.0 374.8 489.0 372.0C489.0 369.2 489.3 366.2 489.8 363.6C490.4 361.0 491.2 358.4 492.2 356.4C493.2 354.5 494.5 352.7 495.8 351.7C497.1 350.6 498.6 350.0 500.0 350.0C501.4 350.0 502.9 350.6 504.2 351.7C505.5 352.7 506.8 354.5 507.8 356.4C508.8 358.4 509.6 361.0 510.2 363.6C510.7 366.2 511.0 369.2 511.0 372.0Z"/>
<path fill="#a7d890" d="M440.0 784.4C440.0 797.7 415.0 804.4 400.0 814.4C385.0 824.4 365.0 831.1 350.0 844.4C335.0 857.7 321.7 877.7 310.0 894.4C298.3 911.1 290.0 932.7 280.0 944.4C270.0 956.1 259.2 967.7 250.0 964.4C240.8 961.1 223.3 941.1 225.0 924.4C226.7 907.7 247.5 884.4 260.0 864.4C272.5 844.4 288.3 824.4 300.0 804.4C311.7 784.4 313.3 756.1 330.0 744.4C346.7 732.7 381.7 727.7 400.0 734.4C418.3 741.1 440.0 771.1 440.0 784.4Z"/>
<path fill="#a7d890" d="M438.0 724.0C438.0 734.8 436.4 746.5 433.6 756.5C430.8 766.5 426.2 776.4 421.0 784.1C415.8 791.8 409.0 798.4 402.2 802.5C395.4 806.7 387.4 809.0 380.0 809.0C372.6 809.0 364.6 806.7 357.8 802.5C351.0 798.4 344.2 791.8 339.0 784.1C333.8 776.4 329.2 766.5 326.4 756.5C323.6 746.5 322.0 734.8 322.0 724.0C322.0 713.2 323.6 701.5 326.4 691.5C329.2 681.5 333.8 671.6 339.0 663.9C344.2 656.2 351.0 649.6 357.8 645.5C364.6 641.3 372.6 639.0 380.0 639.0C387.4 639.0 395.4 641.3 402.2 645.5C409.0 649.6 415.8 656.2 421.0 663.9C426.2 671.6 430.8 681.5 433.6 691.5C436.4 701.5 438.0 713.2 438.0 724.0Z"/>
<path fill="#d9c986" d="M412.0 724.0C412.0 731.0 411.1 738.6 409.6 745.0C408.0 751.5 405.5 757.9 402.6 762.9C399.7 767.9 396.0 772.1 392.2 774.8C388.5 777.5 384.1 779.0 380.0 779.0C375.9 779.0 371.5 777.5 367.8 774.8C364.0 772.1 360.3 767.9 357.4 762.9C354.5 757.9 352.0 751.5 350.4 745.0C348.9 738.6 348.0 731.0 348.0 724.0C348.0 717.0 348.9 709.4 350.4 703.0C352.0 696.5 354.5 690.1 357.4 685.1C360.3 680.1 364.0 675.9 367.8 673.2C371.5 670.5 375.9 669.0 380.0 669.0C384.1 669.0 388.5 670.5 392.2 673.2C396.0 675.9 399.7 680.1 402.6 685.1C405.5 690.1 408.0 696.5 409.6 703.0C411.1 709.4 412.0 717.0 412.0 724.0Z"/>
<path fill="#f19c66" d="M393.0 714.0C393.0 717.6 392.6 721.4 391.9 724.7C391.1 728.0 390.0 731.3 388.6 733.8C387.3 736.3 385.5 738.5 383.7 739.9C382.0 741.2 379.9 742.0 378.0 742.0C376.1 742.0 374.0 741.2 372.3 739.9C370.5 738.5 368.7 736.3 367.4 733.8C366.0 731.3 364.9 728.0 364.1 724.7C363.4 721.4 363.0 717.6 363.0 714.0C363.0 710.4 363.4 706.6 364.1 703.3C364.9 700.0 366.0 696.7 367.4 694.2C368.7 691.7 370.5 689.5 372.3 688.1C374.0 686.8 376.1 686.0 378.0 686.0C379.9 686.0 382.0 686.8 383.7 688.1C385.5 689.5 387.3 691.7 388.6 694.2C390.0 696.7 391.1 700.0 391.9 703.3C392.6 706.6 393.0 710.4 393.0 714.0Z"/>
<path fill="#bd4522" d="M385.0 709.0C385.0 710.8 384.8 712.7 384.5 714.4C384.1 716.0 383.6 717.6 382.9 718.9C382.3 720.2 381.5 721.3 380.7 721.9C379.9 722.6 378.9 723.0 378.0 723.0C377.1 723.0 376.1 722.6 375.3 721.9C374.5 721.3 373.7 720.2 373.1 718.9C372.4 717.6 371.9 716.0 371.5 714.4C371.2 712.7 371.0 710.8 371.0 709.0C371.0 707.2 371.2 705.3 371.5 703.6C371.9 702.0 372.4 700.4 373.1 699.1C373.7 697.8 374.5 696.7 375.3 696.1C376.1 695.4 377.1 695.0 378.0 695.0C378.9 695.0 379.9 695.4 380.7 696.1C381.5 696.7 382.3 697.8 382.9 699.1C383.6 700.4 384.1 702.0 384.5 703.6C384.8 705.3 385.0 707.2 385.0 709.0Z"/>
<path fill="#6cc24a" d="M520.0 784.4C532.5 774.4 561.7 764.4 580.0 764.4C598.3 764.4 618.3 774.4 630.0 784.4C641.7 794.4 651.3 808.6 650.0 824.4C648.7 840.2 635.3 864.4 622.0 879.4C608.7 894.4 587.0 907.6 570.0 914.4C553.0 921.2 531.7 927.1 520.0 920.4C508.3 913.7 502.5 890.4 500.0 874.4C497.5 858.4 501.7 839.4 505.0 824.4C508.3 809.4 507.5 794.4 520.0 784.4Z"/>
<path fill="#6cc24a" d="M230.0 614.4C223.3 629.4 245.0 652.7 260.0 664.4C275.0 676.1 303.3 687.7 320.0 684.4C336.7 681.1 346.7 656.1 360.0 644.4C373.3 632.7 410.0 626.1 400.0 614.4C390.0 602.7 328.3 574.4 300.0 574.4C271.7 574.4 236.7 599.4 230.0 614.4Z"/>
<path fill="#a7d890" d="M560.0 380.0C562.5 365.0 583.0 343.3 590.0 350.0C597.0 356.7 600.8 391.7 602.0 420.0C603.2 448.3 597.0 486.7 597.0 520.0C597.0 553.3 597.8 587.2 602.0 620.0C606.2 652.8 614.0 688.7 622.0 717.0C630.0 745.3 637.0 774.5 650.0 790.0C663.0 805.5 700.0 803.3 700.0 810.0C700.0 816.7 666.7 844.3 650.0 830.0C633.3 815.7 612.5 759.0 600.0 724.0C587.5 689.0 580.0 654.0 575.0 620.0C570.0 586.0 570.0 550.0 570.0 520.0C570.0 490.0 576.7 463.3 575.0 440.0C573.3 416.7 557.5 395.0 560.0 380.0Z"/>
<path fill="#d9c986" d="M563.0 378.0C565.5 366.3 579.2 343.0 592.0 330.0C604.8 317.0 625.3 306.7 640.0 300.0C654.7 293.3 670.0 295.0 680.0 290.0C690.0 285.0 690.0 278.3 700.0 270.0C710.0 261.7 695.8 237.5 740.0 240.0C784.2 242.5 927.5 268.3 965.0 285.0C1002.5 301.7 959.2 320.8 965.0 340.0C970.8 359.2 1020.8 373.3 1000.0 400.0C979.2 426.7 865.0 465.0 840.0 500.0C815.0 535.0 848.3 553.3 850.0 610.0C851.7 666.7 868.3 802.0 850.0 840.0C831.7 878.0 765.0 843.2 740.0 838.0C715.0 832.8 715.0 826.3 700.0 809.0C685.0 791.7 664.7 758.2 650.0 734.0C635.3 709.8 621.7 686.3 612.0 664.0C602.3 641.7 597.3 624.0 592.0 600.0C586.7 576.0 580.8 545.0 580.0 520.0C579.2 495.0 587.5 470.0 587.0 450.0C586.5 430.0 581.0 412.0 577.0 400.0C573.0 388.0 560.5 389.7 563.0 378.0Z"/>
<path fill="#a7d890" d="M690.0 290.0C691.7 278.3 708.3 253.3 720.0 245.0C731.7 236.7 743.3 237.2 760.0 240.0C776.7 242.8 800.0 254.5 820.0 262.0C840.0 269.5 865.3 279.0 880.0 285.0C894.7 291.0 888.0 288.8 908.0 298.0C928.0 307.2 1018.0 331.3 1000.0 340.0C982.0 348.7 841.7 350.0 800.0 350.0C758.3 350.0 765.0 345.8 750.0 340.0C735.0 334.2 720.0 323.3 710.0 315.0C700.0 306.7 688.3 301.7 690.0 290.0Z"/>
<path fill="#88ca68" d="M730.0 250.0C740.8 245.3 773.0 256.2 790.0 262.0C807.0 267.8 830.3 275.3 832.0 285.0C833.7 294.7 813.7 315.0 800.0 320.0C786.3 325.0 762.5 320.0 750.0 315.0C737.5 310.0 728.3 300.8 725.0 290.0C721.7 279.2 719.2 254.7 730.0 250.0Z"/>
<path fill="#f19c66" d="M582.0 350.0C589.2 341.7 607.0 336.7 620.0 340.0C633.0 343.3 646.7 358.3 660.0 370.0C673.3 381.7 685.0 400.0 700.0 410.0C715.0 420.0 731.3 425.0 750.0 430.0C768.7 435.0 803.3 430.0 812.0 440.0C820.7 450.0 805.7 476.7 802.0 490.0C798.3 503.3 797.0 508.3 790.0 520.0C783.0 531.7 768.3 543.3 760.0 560.0C751.7 576.7 743.0 597.7 740.0 620.0C737.0 642.3 744.5 679.7 742.0 694.0C739.5 708.3 733.7 701.5 725.0 706.0C716.3 710.5 702.5 721.0 690.0 721.0C677.5 721.0 660.0 715.5 650.0 706.0C640.0 696.5 638.0 675.0 630.0 664.0C622.0 653.0 609.2 650.7 602.0 640.0C594.8 629.3 591.0 613.3 587.0 600.0C583.0 586.7 578.0 585.0 578.0 560.0C578.0 535.0 587.2 478.3 587.0 450.0C586.8 421.7 577.8 406.7 577.0 390.0C576.2 373.3 574.8 358.3 582.0 350.0Z"/>
<path fill="#bd4522" d="M600.0 470.0C606.7 456.7 626.7 450.0 640.0 450.0C653.3 450.0 669.2 458.3 680.0 470.0C690.8 481.7 700.0 498.3 705.0 520.0C710.0 541.7 710.8 576.7 710.0 600.0C709.2 623.3 703.3 645.7 700.0 660.0C696.7 674.3 696.7 679.2 690.0 686.0C683.3 692.8 668.3 704.7 660.0 701.0C651.7 697.3 645.8 674.2 640.0 664.0C634.2 653.8 629.2 650.7 625.0 640.0C620.8 629.3 619.2 618.3 615.0 600.0C610.8 581.7 602.5 551.7 600.0 530.0C597.5 508.3 593.3 483.3 600.0 470.0Z"/>
<path fill="#ffffff" d="M640.0 545.0C645.0 531.7 657.5 534.2 665.0 540.0C672.5 545.8 681.2 563.3 685.0 580.0C688.8 596.7 688.8 625.2 688.0 640.0C687.2 654.8 685.5 660.8 680.0 669.0C674.5 677.2 661.7 691.5 655.0 689.0C648.3 686.5 643.3 665.5 640.0 654.0C636.7 642.5 635.0 638.2 635.0 620.0C635.0 601.8 635.0 558.3 640.0 545.0Z"/>
<path fill="#f19c66" d="M785.0 769.4C788.3 761.1 792.5 756.9 800.0 759.4C807.5 761.9 828.3 773.6 830.0 784.4C831.7 795.2 818.3 820.2 810.0 824.4C801.7 828.6 784.2 818.6 780.0 809.4C775.8 800.2 781.7 777.7 785.0 769.4Z"/>
<path fill="#d9c986" d="M669.0 277.0C669.0 281.1 668.1 285.5 666.6 289.2C665.0 293.0 662.5 296.7 659.6 299.6C656.7 302.5 653.0 305.0 649.2 306.6C645.5 308.1 641.1 309.0 637.0 309.0C632.9 309.0 628.5 308.1 624.8 306.6C621.0 305.0 617.3 302.5 614.4 299.6C611.5 296.7 609.0 293.0 607.4 289.2C605.9 285.5 605.0 281.1 605.0 277.0C605.0 272.9 605.9 268.5 607.4 264.8C609.0 261.0 611.5 257.3 614.4 254.4C617.3 251.5 621.0 249.0 624.8 247.4C628.5 245.9 632.9 245.0 637.0 245.0C641.1 245.0 645.5 245.9 649.2 247.4C653.0 249.0 656.7 251.5 659.6 254.4C662.5 257.3 665.0 261.0 666.6 264.8C668.1 268.5 669.0 272.9 669.0 277.0Z"/>
</g>
<use href="#st" class="ol"/><use href="#isl" class="ol" style="stroke-width:14;stroke:#222"/><use href="#coast"/><use href="#cdots"/>
</g>
<text class="t" x="578.6" y="26.4">DIA 05</text>
<rect class="fr" x="528.45" y="34.50" width="98.45" height="130.35"/>
<g transform="translate(528.00 34.00) scale(0.09766)">
<g clip-path="url(#cp)">
<rect x="0" y="0" width="1024" height="1340" fill="#f19c66"/>
<path fill="#d9c986" d="M345.0 400.0C346.7 383.3 357.5 358.3 370.0 340.0C382.5 321.7 401.7 302.5 420.0 290.0C438.3 277.5 460.0 269.7 480.0 265.0C500.0 260.3 522.5 261.2 540.0 262.0C557.5 262.8 573.3 265.3 585.0 270.0C596.7 274.7 609.2 278.3 610.0 290.0C610.8 301.7 598.3 325.8 590.0 340.0C581.7 354.2 558.3 375.0 560.0 375.0C561.7 375.0 586.7 351.7 600.0 340.0C613.3 328.3 626.7 315.8 640.0 305.0C653.3 294.2 666.7 284.2 680.0 275.0C693.3 265.8 706.7 255.8 720.0 250.0C733.3 244.2 743.3 238.0 760.0 240.0C776.7 242.0 800.8 253.3 820.0 262.0C839.2 270.7 873.3 280.7 875.0 292.0C876.7 303.3 849.2 318.7 830.0 330.0C810.8 341.3 781.7 353.3 760.0 360.0C738.3 366.7 720.0 365.8 700.0 370.0C680.0 374.2 658.3 380.0 640.0 385.0C621.7 390.0 605.0 394.2 590.0 400.0C575.0 405.8 560.0 413.3 550.0 420.0C540.0 426.7 528.3 435.0 530.0 440.0C531.7 445.0 545.0 449.2 560.0 450.0C575.0 450.8 598.3 446.7 620.0 445.0C641.7 443.3 668.3 438.3 690.0 440.0C711.7 441.7 733.3 446.7 750.0 455.0C766.7 463.3 748.3 479.2 790.0 490.0C831.7 500.8 965.0 435.0 1000.0 520.0C1035.0 605.0 1100.0 920.0 1000.0 1000.0C900.0 1080.0 516.7 1008.3 400.0 1000.0C283.3 991.7 343.3 968.3 300.0 950.0C256.7 931.7 157.5 915.0 140.0 890.0C122.5 865.0 185.0 836.0 195.0 800.0C205.0 764.0 203.3 698.3 200.0 674.0C196.7 649.7 184.2 661.3 175.0 654.0C165.8 646.7 140.8 640.7 145.0 630.0C149.2 619.3 180.8 600.0 200.0 590.0C219.2 580.0 240.0 574.2 260.0 570.0C280.0 565.8 305.0 561.7 320.0 565.0C335.0 568.3 340.0 590.8 350.0 590.0C360.0 589.2 368.3 573.3 380.0 560.0C391.7 546.7 406.7 520.8 420.0 510.0C433.3 499.2 461.7 496.7 460.0 495.0C458.3 493.3 423.3 502.5 410.0 500.0C396.7 497.5 388.3 490.0 380.0 480.0C371.7 470.0 365.8 453.3 360.0 440.0C354.2 426.7 343.3 416.7 345.0 400.0Z"/>
<path fill="#f19c66" d="M330.0 480.0C345.0 473.3 366.7 476.7 380.0 480.0C393.3 483.3 396.7 497.5 410.0 500.0C423.3 502.5 443.3 493.3 460.0 495.0C476.7 496.7 498.3 500.8 510.0 510.0C521.7 519.2 530.0 535.0 530.0 550.0C530.0 565.0 515.0 583.3 510.0 600.0C505.0 616.7 500.8 637.7 500.0 650.0C499.2 662.3 508.3 661.7 505.0 674.0C501.7 686.3 494.2 711.5 480.0 724.0C465.8 736.5 438.3 747.3 420.0 749.0C401.7 750.7 381.7 744.8 370.0 734.0C358.3 723.2 352.5 698.0 350.0 684.0C347.5 670.0 355.0 665.7 355.0 650.0C355.0 634.3 355.8 604.2 350.0 590.0C344.2 575.8 330.0 576.7 320.0 565.0C310.0 553.3 288.3 534.2 290.0 520.0C291.7 505.8 315.0 486.7 330.0 480.0Z"/>
<path fill="#f19c66" d="M420.0 435.0C423.3 428.3 438.3 416.7 450.0 410.0C461.7 403.3 478.3 395.0 490.0 395.0C501.7 395.0 515.8 402.5 520.0 410.0C524.2 417.5 523.3 433.3 515.0 440.0C506.7 446.7 484.2 448.3 470.0 450.0C455.8 451.7 438.3 452.5 430.0 450.0C421.7 447.5 416.7 441.7 420.0 435.0Z"/>
<path fill="#bd4522" d="M505.0 407.0C505.0 408.4 504.6 409.9 503.9 411.2C503.1 412.5 502.0 413.8 500.6 414.8C499.3 415.8 497.5 416.6 495.7 417.2C494.0 417.7 491.9 418.0 490.0 418.0C488.1 418.0 486.0 417.7 484.3 417.2C482.5 416.6 480.7 415.8 479.4 414.8C478.0 413.8 476.9 412.5 476.1 411.2C475.4 409.9 475.0 408.4 475.0 407.0C475.0 405.6 475.4 404.1 476.1 402.8C476.9 401.5 478.0 400.2 479.4 399.2C480.7 398.2 482.5 397.4 484.3 396.8C486.0 396.3 488.1 396.0 490.0 396.0C491.9 396.0 494.0 396.3 495.7 396.8C497.5 397.4 499.3 398.2 500.6 399.2C502.0 400.2 503.1 401.5 503.9 402.8C504.6 404.1 505.0 405.6 505.0 407.0Z"/>
<path fill="#bd4522" d="M646.0 417.0C646.0 419.2 645.3 421.5 644.2 423.5C643.0 425.5 641.1 427.5 639.0 429.0C636.8 430.6 634.0 431.9 631.2 432.7C628.4 433.5 625.1 434.0 622.0 434.0C618.9 434.0 615.6 433.5 612.8 432.7C610.0 431.9 607.2 430.6 605.0 429.0C602.9 427.5 601.0 425.5 599.8 423.5C598.7 421.5 598.0 419.2 598.0 417.0C598.0 414.8 598.7 412.5 599.8 410.5C601.0 408.5 602.9 406.5 605.0 405.0C607.2 403.4 610.0 402.1 612.8 401.3C615.6 400.5 618.9 400.0 622.0 400.0C625.1 400.0 628.4 400.5 631.2 401.3C634.0 402.1 636.8 403.4 639.0 405.0C641.1 406.5 643.0 408.5 644.2 410.5C645.3 412.5 646.0 414.8 646.0 417.0Z"/>
<path fill="#ffffff" d="M627.0 418.0C627.0 418.8 626.8 419.6 626.5 420.3C626.1 421.0 625.6 421.7 624.9 422.2C624.3 422.8 623.5 423.3 622.7 423.5C621.9 423.8 620.9 424.0 620.0 424.0C619.1 424.0 618.1 423.8 617.3 423.5C616.5 423.3 615.7 422.8 615.1 422.2C614.4 421.7 613.9 421.0 613.5 420.3C613.2 419.6 613.0 418.8 613.0 418.0C613.0 417.2 613.2 416.4 613.5 415.7C613.9 415.0 614.4 414.3 615.1 413.8C615.7 413.2 616.5 412.7 617.3 412.5C618.1 412.2 619.1 412.0 620.0 412.0C620.9 412.0 621.9 412.2 622.7 412.5C623.5 412.7 624.3 413.2 624.9 413.8C625.6 414.3 626.1 415.0 626.5 415.7C626.8 416.4 627.0 417.2 627.0 418.0Z"/>
<path fill="#a7d890" d="M445.0 360.0C443.3 353.3 457.5 340.8 470.0 335.0C482.5 329.2 503.3 325.8 520.0 325.0C536.7 324.2 560.0 325.8 570.0 330.0C580.0 334.2 582.0 341.7 580.0 350.0C578.0 358.3 568.0 374.2 558.0 380.0C548.0 385.8 533.0 385.8 520.0 385.0C507.0 384.2 492.5 379.2 480.0 375.0C467.5 370.8 446.7 366.7 445.0 360.0Z"/>
<path fill="#a7d890" d="M620.0 590.0C623.3 577.5 636.7 556.7 650.0 545.0C663.3 533.3 681.7 523.3 700.0 520.0C718.3 516.7 743.3 518.3 760.0 525.0C776.7 531.7 785.0 547.5 800.0 560.0C815.0 572.5 816.7 586.7 850.0 600.0C883.3 613.3 975.0 600.0 1000.0 640.0C1025.0 680.0 1044.2 807.0 1000.0 840.0C955.8 873.0 786.7 841.2 735.0 838.0C683.3 834.8 705.8 818.7 690.0 821.0C674.2 823.3 655.0 842.5 640.0 852.0C625.0 861.5 614.2 872.0 600.0 878.0C585.8 884.0 567.5 891.2 555.0 888.0C542.5 884.8 530.8 871.3 525.0 859.0C519.2 846.7 517.5 828.2 520.0 814.0C522.5 799.8 528.3 785.7 540.0 774.0C551.7 762.3 570.0 752.3 590.0 744.0C610.0 735.7 641.7 734.0 660.0 724.0C678.3 714.0 696.7 697.3 700.0 684.0C703.3 670.7 691.7 654.7 680.0 644.0C668.3 633.3 640.0 629.0 630.0 620.0C620.0 611.0 616.7 602.5 620.0 590.0Z"/>
<path fill="#88ca68" d="M785.0 580.0C785.0 585.1 783.6 590.6 781.2 595.3C778.8 600.0 774.9 604.7 770.4 608.3C765.8 611.9 760.0 615.0 754.1 617.0C748.2 618.9 741.4 620.0 735.0 620.0C728.6 620.0 721.8 618.9 715.9 617.0C710.0 615.0 704.2 611.9 699.6 608.3C695.1 604.7 691.2 600.0 688.8 595.3C686.4 590.6 685.0 585.1 685.0 580.0C685.0 574.9 686.4 569.4 688.8 564.7C691.2 560.0 695.1 555.3 699.6 551.7C704.2 548.1 710.0 545.0 715.9 543.0C721.8 541.1 728.6 540.0 735.0 540.0C741.4 540.0 748.2 541.1 754.1 543.0C760.0 545.0 765.8 548.1 770.4 551.7C774.9 555.3 778.8 560.0 781.2 564.7C783.6 569.4 785.0 574.9 785.0 580.0Z"/>
<path fill="#6cc24a" d="M765.0 575.0C765.0 577.3 764.3 579.8 763.1 581.9C761.9 584.0 759.9 586.1 757.7 587.7C755.4 589.4 752.5 590.8 749.6 591.6C746.6 592.5 743.2 593.0 740.0 593.0C736.8 593.0 733.4 592.5 730.4 591.6C727.5 590.8 724.6 589.4 722.3 587.7C720.1 586.1 718.1 584.0 716.9 581.9C715.7 579.8 715.0 577.3 715.0 575.0C715.0 572.7 715.7 570.2 716.9 568.1C718.1 566.0 720.1 563.9 722.3 562.3C724.6 560.6 727.5 559.2 730.4 558.4C733.4 557.5 736.8 557.0 740.0 557.0C743.2 557.0 746.6 557.5 749.6 558.4C752.5 559.2 755.4 560.6 757.7 562.3C759.9 563.9 761.9 566.0 763.1 568.1C764.3 570.2 765.0 572.7 765.0 575.0Z"/>
<path fill="#88ca68" d="M585.0 779.4C591.7 771.9 612.5 762.7 630.0 759.4C647.5 756.1 678.3 756.1 690.0 759.4C701.7 762.7 703.3 771.9 700.0 779.4C696.7 786.9 683.3 798.6 670.0 804.4C656.7 810.2 633.3 814.4 620.0 814.4C606.7 814.4 595.8 810.2 590.0 804.4C584.2 798.6 578.3 786.9 585.0 779.4Z"/>
<path fill="#a7d890" d="M620.0 490.0C620.0 491.3 619.6 492.6 618.9 493.8C618.1 495.0 617.0 496.2 615.6 497.1C614.3 498.0 612.5 498.8 610.7 499.2C609.0 499.7 606.9 500.0 605.0 500.0C603.1 500.0 601.0 499.7 599.3 499.2C597.5 498.8 595.7 498.0 594.4 497.1C593.0 496.2 591.9 495.0 591.1 493.8C590.4 492.6 590.0 491.3 590.0 490.0C590.0 488.7 590.4 487.4 591.1 486.2C591.9 485.0 593.0 483.8 594.4 482.9C595.7 482.0 597.5 481.2 599.3 480.8C601.0 480.3 603.1 480.0 605.0 480.0C606.9 480.0 609.0 480.3 610.7 480.8C612.5 481.2 614.3 482.0 615.6 482.9C617.0 483.8 618.1 485.0 618.9 486.2C619.6 487.4 620.0 488.7 620.0 490.0Z"/>
<path fill="#a7d890" d="M745.0 250.0C752.5 247.8 790.0 257.0 795.0 262.0C800.0 267.0 782.5 277.8 775.0 280.0C767.5 282.2 755.0 280.0 750.0 275.0C745.0 270.0 737.5 252.2 745.0 250.0Z"/>
<path fill="#f19c66" d="M605.0 690.0C608.3 685.8 621.7 680.0 630.0 680.0C638.3 680.0 653.3 685.0 655.0 690.0C656.7 695.0 647.5 707.5 640.0 710.0C632.5 712.5 615.8 708.3 610.0 705.0C604.2 701.7 601.7 694.2 605.0 690.0Z"/>
<path fill="#bd4522" d="M445.0 155.0C445.0 139.7 455.8 107.5 465.0 100.0C474.2 92.5 487.5 111.7 500.0 110.0C512.5 108.3 523.3 80.0 540.0 90.0C556.7 100.0 593.0 153.8 600.0 170.0C607.0 186.2 590.3 182.5 582.0 187.0C573.7 191.5 563.7 194.5 550.0 197.0C536.3 199.5 514.2 202.8 500.0 202.0C485.8 201.2 474.2 199.8 465.0 192.0C455.8 184.2 445.0 170.3 445.0 155.0Z"/>
<path fill="#bd4522" d="M308.0 290.0C316.0 281.7 334.7 280.0 340.0 285.0C345.3 290.0 343.3 310.8 340.0 320.0C336.7 329.2 328.0 337.5 320.0 340.0C312.0 342.5 294.0 343.3 292.0 335.0C290.0 326.7 300.0 298.3 308.0 290.0Z"/>
<path fill="#bd4522" d="M840.0 400.0C843.3 388.0 858.3 355.8 870.0 340.0C881.7 324.2 895.8 313.3 910.0 305.0C924.2 296.7 952.5 284.2 955.0 290.0C957.5 295.8 937.5 325.0 925.0 340.0C912.5 355.0 892.5 368.0 880.0 380.0C867.5 392.0 856.7 408.7 850.0 412.0C843.3 415.3 836.7 412.0 840.0 400.0Z"/>
<path fill="#ffffff" d="M925.0 335.0C937.5 320.0 950.5 297.7 958.0 296.0C965.5 294.3 972.2 314.7 970.0 325.0C967.8 335.3 956.7 346.8 945.0 358.0C933.3 369.2 910.3 387.3 900.0 392.0C889.7 396.7 878.8 395.5 883.0 386.0C887.2 376.5 912.5 350.0 925.0 335.0Z"/>
<path fill="#bd4522" d="M40.0 640.0C37.5 636.8 68.3 617.5 85.0 605.0C101.7 592.5 126.2 573.7 140.0 565.0C153.8 556.3 171.3 547.2 168.0 553.0C164.7 558.8 131.3 588.2 120.0 600.0C108.7 611.8 113.3 617.3 100.0 624.0C86.7 630.7 42.5 643.2 40.0 640.0Z"/>
<path fill="#f19c66" d="M340.0 874.4C351.7 858.6 358.3 838.6 370.0 829.4C381.7 820.2 398.3 816.9 410.0 819.4C421.7 821.9 434.2 830.2 440.0 844.4C445.8 858.6 441.7 886.1 445.0 904.4C448.3 922.7 456.7 939.4 460.0 954.4C463.3 969.4 468.3 980.2 465.0 994.4C461.7 1008.6 454.2 1042.7 440.0 1039.4C425.8 1036.1 398.3 990.2 380.0 974.4C361.7 958.6 346.7 949.4 330.0 944.4C313.3 939.4 297.5 942.7 280.0 944.4C262.5 946.1 221.7 957.7 225.0 954.4C228.3 951.1 280.8 937.7 300.0 924.4C319.2 911.1 328.3 890.2 340.0 874.4Z"/>
<path fill="#bd4522" d="M215.0 952.4C220.0 940.7 269.2 942.9 290.0 942.4C310.8 941.9 325.0 944.4 340.0 949.4C355.0 954.4 368.3 961.9 380.0 972.4C391.7 982.9 399.2 1001.2 410.0 1012.4C420.8 1023.6 439.2 989.1 445.0 1039.4C450.8 1089.7 480.8 1268.6 445.0 1314.4C409.2 1360.2 265.8 1344.4 230.0 1314.4C194.2 1284.4 218.3 1177.7 230.0 1134.4C241.7 1091.1 280.8 1076.9 300.0 1054.4C319.2 1031.9 345.0 1010.2 345.0 999.4C345.0 988.6 314.2 987.2 300.0 989.4C285.8 991.6 274.2 1018.6 260.0 1012.4C245.8 1006.2 210.0 964.1 215.0 952.4Z"/>
<path fill="#a7d890" d="M215.0 709.4C223.3 702.7 237.5 723.6 250.0 734.4C262.5 745.2 279.2 759.4 290.0 774.4C300.8 789.4 313.3 807.7 315.0 824.4C316.7 841.1 309.2 859.4 300.0 874.4C290.8 889.4 273.0 903.7 260.0 914.4C247.0 925.1 234.5 939.4 222.0 938.4C209.5 937.4 197.0 917.7 185.0 908.4C173.0 899.1 149.2 892.2 150.0 882.4C150.8 872.6 181.7 867.4 190.0 849.4C198.3 831.4 195.8 797.7 200.0 774.4C204.2 751.1 206.7 716.1 215.0 709.4Z"/>
<path fill="#88ca68" d="M215.0 829.4C225.0 825.2 241.7 824.4 250.0 829.4C258.3 834.4 265.0 848.6 265.0 859.4C265.0 870.2 258.3 885.2 250.0 894.4C241.7 903.6 226.7 913.7 215.0 914.4C203.3 915.1 184.2 908.4 180.0 898.4C175.8 888.4 184.2 865.9 190.0 854.4C195.8 842.9 205.0 833.6 215.0 829.4Z"/>
<path fill="#6cc24a" d="M160.0 878.4C161.7 871.2 200.0 867.6 210.0 869.4C220.0 871.2 221.7 882.2 220.0 889.4C218.3 896.6 210.0 914.2 200.0 912.4C190.0 910.6 158.3 885.6 160.0 878.4Z"/>
<path fill="#f19c66" d="M669.0 277.0C669.0 281.1 668.1 285.5 666.6 289.2C665.0 293.0 662.5 296.7 659.6 299.6C656.7 302.5 653.0 305.0 649.2 306.6C645.5 308.1 641.1 309.0 637.0 309.0C632.9 309.0 628.5 308.1 624.8 306.6C621.0 305.0 617.3 302.5 614.4 299.6C611.5 296.7 609.0 293.0 607.4 289.2C605.9 285.5 605.0 281.1 605.0 277.0C605.0 272.9 605.9 268.5 607.4 264.8C609.0 261.0 611.5 257.3 614.4 254.4C617.3 251.5 621.0 249.0 624.8 247.4C628.5 245.9 632.9 245.0 637.0 245.0C641.1 245.0 645.5 245.9 649.2 247.4C653.0 249.0 656.7 251.5 659.6 254.4C662.5 257.3 665.0 261.0 666.6 264.8C668.1 268.5 669.0 272.9 669.0 277.0Z"/>
</g>
<use href="#st" class="ol"/><use href="#isl" class="ol" style="stroke-width:14;stroke:#222"/><use href="#coast"/><use href="#cdots"/>
</g>
<text class="t" x="706.0" y="26.9">DIA 06</text>
<rect class="fr" x="656.45" y="34.50" width="98.45" height="130.35"/>
<g transform="translate(656.00 34.00) scale(0.09766)">
<g clip-path="url(#cp)">
<rect x="0" y="0" width="1024" height="1340" fill="#ffffff"/>
<path fill="#bd4522" d="M385.0 135.0C392.5 136.7 399.2 147.5 410.0 160.0C420.8 172.5 435.0 192.5 450.0 210.0C465.0 227.5 485.0 248.3 500.0 265.0C515.0 281.7 530.0 295.8 540.0 310.0C550.0 324.2 555.8 335.8 560.0 350.0C564.2 364.2 565.0 381.7 565.0 395.0C565.0 408.3 565.8 423.3 560.0 430.0C554.2 436.7 541.7 437.5 530.0 435.0C518.3 432.5 505.0 424.2 490.0 415.0C475.0 405.8 453.3 392.5 440.0 380.0C426.7 367.5 421.7 355.0 410.0 340.0C398.3 325.0 382.5 305.0 370.0 290.0C357.5 275.0 338.3 265.0 335.0 250.0C331.7 235.0 345.0 216.7 350.0 200.0C355.0 183.3 359.2 160.8 365.0 150.0C370.8 139.2 377.5 133.3 385.0 135.0Z"/>
<path fill="#f19c66" d="M520.0 388.0C520.0 390.2 519.5 392.5 518.5 394.5C517.5 396.5 515.9 398.5 514.1 400.0C512.3 401.6 510.0 402.9 507.7 403.7C505.3 404.5 502.6 405.0 500.0 405.0C497.4 405.0 494.7 404.5 492.3 403.7C490.0 402.9 487.7 401.6 485.9 400.0C484.1 398.5 482.5 396.5 481.5 394.5C480.5 392.5 480.0 390.2 480.0 388.0C480.0 385.8 480.5 383.5 481.5 381.5C482.5 379.5 484.1 377.5 485.9 376.0C487.7 374.4 490.0 373.1 492.3 372.3C494.7 371.5 497.4 371.0 500.0 371.0C502.6 371.0 505.3 371.5 507.7 372.3C510.0 373.1 512.3 374.4 514.1 376.0C515.9 377.5 517.5 379.5 518.5 381.5C519.5 383.5 520.0 385.8 520.0 388.0Z"/>
<path fill="#bd4522" d="M215.0 495.0C212.5 476.7 242.5 443.3 255.0 430.0C267.5 416.7 275.8 415.0 290.0 415.0C304.2 415.0 321.7 421.7 340.0 430.0C358.3 438.3 380.0 454.2 400.0 465.0C420.0 475.8 440.0 487.5 460.0 495.0C480.0 502.5 505.0 501.7 520.0 510.0C535.0 518.3 544.2 531.7 550.0 545.0C555.8 558.3 558.3 576.7 555.0 590.0C551.7 603.3 540.8 616.7 530.0 625.0C519.2 633.3 505.0 640.0 490.0 640.0C475.0 640.0 458.3 631.7 440.0 625.0C421.7 618.3 400.0 609.2 380.0 600.0C360.0 590.8 338.3 580.0 320.0 570.0C301.7 560.0 287.5 552.5 270.0 540.0C252.5 527.5 217.5 513.3 215.0 495.0Z"/>
<path fill="#bd4522" d="M705.0 280.0C703.7 270.0 704.5 252.0 712.0 245.0C719.5 238.0 735.3 236.2 750.0 238.0C764.7 239.8 783.3 249.7 800.0 256.0C816.7 262.3 835.3 270.0 850.0 276.0C864.7 282.0 883.0 279.7 888.0 292.0C893.0 304.3 883.0 334.5 880.0 350.0C877.0 365.5 876.7 379.2 870.0 385.0C863.3 390.8 851.7 388.3 840.0 385.0C828.3 381.7 815.0 374.2 800.0 365.0C785.0 355.8 763.3 340.0 750.0 330.0C736.7 320.0 727.5 313.3 720.0 305.0C712.5 296.7 706.3 290.0 705.0 280.0Z"/>
<path fill="#bd4522" d="M770.0 510.0C773.3 503.8 780.8 494.7 790.0 498.0C799.2 501.3 820.0 517.2 825.0 530.0C830.0 542.8 826.7 570.0 820.0 575.0C813.3 580.0 793.3 566.7 785.0 560.0C776.7 553.3 772.5 543.3 770.0 535.0C767.5 526.7 766.7 516.2 770.0 510.0Z"/>
<path fill="#bd4522" d="M195.0 694.4C201.7 679.7 232.5 676.4 250.0 676.4C267.5 676.4 280.0 684.7 300.0 694.4C320.0 704.1 346.7 723.6 370.0 734.4C393.3 745.2 418.3 751.9 440.0 759.4C461.7 766.9 485.0 771.1 500.0 779.4C515.0 787.7 520.8 796.1 530.0 809.4C539.2 822.7 546.0 843.6 555.0 859.4C564.0 875.2 589.8 891.6 584.0 904.4C578.2 917.2 538.2 927.7 520.0 936.4C501.8 945.1 487.5 940.1 475.0 956.4C462.5 972.7 456.7 1008.9 445.0 1034.4C433.3 1059.9 405.0 1084.4 405.0 1109.4C405.0 1134.4 441.7 1151.9 445.0 1184.4C448.3 1216.9 444.2 1284.4 425.0 1304.4C405.8 1324.4 360.0 1334.4 330.0 1304.4C300.0 1274.4 245.0 1172.7 245.0 1124.4C245.0 1076.1 320.8 1036.9 330.0 1014.4C339.2 991.9 310.8 990.2 300.0 989.4C289.2 988.6 291.7 1026.9 265.0 1009.4C238.3 991.9 149.2 925.2 140.0 884.4C130.8 843.6 200.8 796.1 210.0 764.4C219.2 732.7 188.3 709.1 195.0 694.4Z"/>
<path fill="#f19c66" d="M207.0 734.4C215.7 727.7 239.5 722.7 260.0 724.4C280.5 726.1 306.7 735.2 330.0 744.4C353.3 753.6 378.3 768.6 400.0 779.4C421.7 790.2 443.3 798.6 460.0 809.4C476.7 820.2 490.0 831.9 500.0 844.4C510.0 856.9 512.5 871.1 520.0 884.4C527.5 897.7 552.5 912.4 545.0 924.4C537.5 936.4 491.7 938.9 475.0 956.4C458.3 973.9 457.8 1002.2 445.0 1029.4C432.2 1056.6 408.0 1101.9 398.0 1119.4C388.0 1136.9 394.7 1140.2 385.0 1134.4C375.3 1128.6 353.3 1097.7 340.0 1084.4C326.7 1071.1 315.0 1060.4 305.0 1054.4C295.0 1048.4 275.8 1055.1 280.0 1048.4C284.2 1041.7 326.7 1024.2 330.0 1014.4C333.3 1004.6 310.8 990.2 300.0 989.4C289.2 988.6 291.7 1026.9 265.0 1009.4C238.3 991.9 149.5 925.2 140.0 884.4C130.5 843.6 196.8 789.4 208.0 764.4C219.2 739.4 198.3 741.1 207.0 734.4Z"/>
<path fill="#d9c986" d="M230.0 849.4C230.0 835.2 246.7 818.6 260.0 809.4C273.3 800.2 291.7 794.4 310.0 794.4C328.3 794.4 350.0 799.4 370.0 809.4C390.0 819.4 414.2 839.4 430.0 854.4C445.8 869.4 459.2 884.4 465.0 899.4C470.8 914.4 470.8 932.7 465.0 944.4C459.2 956.1 444.2 966.1 430.0 969.4C415.8 972.7 398.3 970.2 380.0 964.4C361.7 958.6 340.0 946.1 320.0 934.4C300.0 922.7 275.0 908.6 260.0 894.4C245.0 880.2 230.0 863.6 230.0 849.4Z"/>
</g>
<use href="#st" class="ol"/><use href="#isl" class="ol" style="stroke-width:14;stroke:#222"/><use href="#coast"/><use href="#cdots"/>
</g>
<text class="t" x="830.5" y="27.9">DIA 07</text>
<rect class="fr" x="780.45" y="34.50" width="98.45" height="130.35"/>
<g transform="translate(780.00 34.00) scale(0.09766)">
<g clip-path="url(#cp)">
<rect x="0" y="0" width="1024" height="1340" fill="#d9c986"/>
<path fill="#f19c66" d="M380.0 100.0C390.8 83.3 406.7 70.8 420.0 70.0C433.3 69.2 448.3 81.7 460.0 95.0C471.7 108.3 480.0 149.2 490.0 150.0C500.0 150.8 506.7 97.5 520.0 100.0C533.3 102.5 569.2 148.3 570.0 165.0C570.8 181.7 536.7 187.5 525.0 200.0C513.3 212.5 506.7 225.0 500.0 240.0C493.3 255.0 486.7 273.3 485.0 290.0C483.3 306.7 486.7 324.2 490.0 340.0C493.3 355.8 508.3 371.7 505.0 385.0C501.7 398.3 477.5 405.8 470.0 420.0C462.5 434.2 463.3 453.3 460.0 470.0C456.7 486.7 454.2 506.7 450.0 520.0C445.8 533.3 440.8 551.7 435.0 550.0C429.2 548.3 418.3 528.3 415.0 510.0C411.7 491.7 414.2 461.7 415.0 440.0C415.8 418.3 422.5 395.0 420.0 380.0C417.5 365.0 410.0 355.8 400.0 350.0C390.0 344.2 373.3 343.3 360.0 345.0C346.7 346.7 333.3 353.3 320.0 360.0C306.7 366.7 282.5 395.0 280.0 385.0C277.5 375.0 295.8 325.0 305.0 300.0C314.2 275.0 326.7 256.7 335.0 235.0C343.3 213.3 347.5 192.5 355.0 170.0C362.5 147.5 369.2 116.7 380.0 100.0Z"/>
<path fill="#bd4522" d="M410.0 120.0C416.7 107.5 430.0 96.7 440.0 95.0C450.0 93.3 463.0 99.2 470.0 110.0C477.0 120.8 476.7 150.0 482.0 160.0C487.3 170.0 500.7 163.3 502.0 170.0C503.3 176.7 497.0 190.0 490.0 200.0C483.0 210.0 471.7 222.5 460.0 230.0C448.3 237.5 430.8 245.8 420.0 245.0C409.2 244.2 398.3 237.5 395.0 225.0C391.7 212.5 397.5 187.5 400.0 170.0C402.5 152.5 403.3 132.5 410.0 120.0Z"/>
<path fill="#bd4522" d="M430.0 430.0C433.3 417.5 436.7 403.3 445.0 395.0C453.3 386.7 470.8 380.8 480.0 380.0C489.2 379.2 497.5 385.0 500.0 390.0C502.5 395.0 500.0 403.3 495.0 410.0C490.0 416.7 475.0 420.0 470.0 430.0C465.0 440.0 470.0 460.0 465.0 470.0C460.0 480.0 446.7 490.0 440.0 490.0C433.3 490.0 426.7 480.0 425.0 470.0C423.3 460.0 426.7 442.5 430.0 430.0Z"/>
<path fill="#ffffff" d="M459.4 456.4C458.7 458.3 457.7 460.3 456.6 461.9C455.5 463.5 454.1 465.0 452.8 466.0C451.4 467.1 449.9 467.9 448.5 468.2C447.2 468.5 445.7 468.5 444.5 468.0C443.3 467.6 442.2 466.7 441.3 465.6C440.5 464.4 439.8 462.9 439.5 461.2C439.1 459.5 439.0 457.5 439.2 455.6C439.4 453.7 439.9 451.5 440.6 449.6C441.3 447.7 442.3 445.7 443.4 444.1C444.5 442.5 445.9 441.0 447.2 440.0C448.6 438.9 450.1 438.1 451.5 437.8C452.8 437.5 454.3 437.5 455.5 438.0C456.7 438.4 457.8 439.3 458.7 440.4C459.5 441.6 460.2 443.1 460.5 444.8C460.9 446.5 461.0 448.5 460.8 450.4C460.6 452.3 460.1 454.5 459.4 456.4Z"/>
<path fill="#bd4522" d="M305.0 290.0C310.0 283.5 330.8 281.7 335.0 285.0C339.2 288.3 335.0 303.5 330.0 310.0C325.0 316.5 309.2 327.3 305.0 324.0C300.8 320.7 300.0 296.5 305.0 290.0Z"/>
<path fill="#f19c66" d="M480.0 555.0C481.7 547.5 493.3 534.2 500.0 530.0C506.7 525.8 517.5 525.8 520.0 530.0C522.5 534.2 520.0 547.5 515.0 555.0C510.0 562.5 495.8 575.0 490.0 575.0C484.2 575.0 478.3 562.5 480.0 555.0Z"/>
<path fill="#a7d890" d="M20.0 650.0C26.7 638.2 113.3 583.3 140.0 565.0C166.7 546.7 167.5 552.5 180.0 540.0C192.5 527.5 201.7 504.2 215.0 490.0C228.3 475.8 240.8 465.0 260.0 455.0C279.2 445.0 311.7 432.5 330.0 430.0C348.3 427.5 360.0 431.7 370.0 440.0C380.0 448.3 387.5 463.3 390.0 480.0C392.5 496.7 389.2 521.7 385.0 540.0C380.8 558.3 374.2 575.0 365.0 590.0C355.8 605.0 345.8 620.8 330.0 630.0C314.2 639.2 291.7 640.7 270.0 645.0C248.3 649.3 221.7 656.5 200.0 656.0C178.3 655.5 156.7 645.3 140.0 642.0C123.3 638.7 120.0 634.7 100.0 636.0C80.0 637.3 13.3 661.8 20.0 650.0Z"/>
<path fill="#88ca68" d="M356.5 525.6C355.1 529.5 352.9 533.5 350.4 536.8C347.9 540.0 344.8 542.9 341.6 545.0C338.5 547.0 334.9 548.4 331.6 548.9C328.2 549.4 324.7 549.1 321.7 548.0C318.7 546.9 315.8 544.9 313.6 542.4C311.4 539.9 309.5 536.4 308.4 532.9C307.3 529.3 306.8 525.0 307.0 521.0C307.2 516.9 308.1 512.4 309.5 508.4C310.9 504.5 313.1 500.5 315.6 497.2C318.1 494.0 321.2 491.1 324.4 489.0C327.5 487.0 331.1 485.6 334.4 485.1C337.8 484.6 341.3 484.9 344.3 486.0C347.3 487.1 350.2 489.1 352.4 491.6C354.6 494.1 356.5 497.6 357.6 501.1C358.7 504.7 359.2 509.0 359.0 513.0C358.8 517.1 357.9 521.6 356.5 525.6Z"/>
<path fill="#88ca68" d="M20.0 650.0C25.0 639.0 104.2 587.5 130.0 570.0C155.8 552.5 165.0 543.3 175.0 545.0C185.0 546.7 190.0 565.2 190.0 580.0C190.0 594.8 183.3 623.7 175.0 634.0C166.7 644.3 152.5 641.7 140.0 642.0C127.5 642.3 120.0 634.7 100.0 636.0C80.0 637.3 15.0 661.0 20.0 650.0Z"/>
<path fill="#6cc24a" d="M20.0 650.0C22.5 640.7 93.3 593.3 115.0 580.0C136.7 566.7 144.2 565.0 150.0 570.0C155.8 575.0 153.3 598.3 150.0 610.0C146.7 621.7 138.3 635.7 130.0 640.0C121.7 644.3 118.3 634.3 100.0 636.0C81.7 637.7 17.5 659.3 20.0 650.0Z"/>
<path fill="#30ad52" d="M20.0 650.0C19.2 642.3 87.5 598.3 105.0 590.0C122.5 581.7 124.2 592.3 125.0 600.0C125.8 607.7 127.5 627.7 110.0 636.0C92.5 644.3 20.8 657.7 20.0 650.0Z"/>
<path fill="#a7d890" d="M490.0 290.0C494.2 275.8 506.7 262.5 520.0 255.0C533.3 247.5 556.7 244.5 570.0 245.0C583.3 245.5 597.5 242.2 600.0 258.0C602.5 273.8 591.7 320.5 585.0 340.0C578.3 359.5 562.5 361.7 560.0 375.0C557.5 388.3 570.0 404.2 570.0 420.0C570.0 435.8 568.3 458.3 560.0 470.0C551.7 481.7 531.7 490.0 520.0 490.0C508.3 490.0 493.3 481.7 490.0 470.0C486.7 458.3 495.8 434.2 500.0 420.0C504.2 405.8 515.8 398.3 515.0 385.0C514.2 371.7 499.2 355.8 495.0 340.0C490.8 324.2 485.8 304.2 490.0 290.0Z"/>
<path fill="#88ca68" d="M520.0 310.0C524.2 296.7 537.5 290.0 545.0 290.0C552.5 290.0 562.5 298.3 565.0 310.0C567.5 321.7 564.2 347.5 560.0 360.0C555.8 372.5 546.7 383.3 540.0 385.0C533.3 386.7 523.3 382.5 520.0 370.0C516.7 357.5 515.8 323.3 520.0 310.0Z"/>
<path fill="#88ca68" d="M505.0 410.0C507.5 401.7 522.5 395.0 530.0 395.0C537.5 395.0 548.3 402.5 550.0 410.0C551.7 417.5 545.8 434.2 540.0 440.0C534.2 445.8 520.8 450.0 515.0 445.0C509.2 440.0 502.5 418.3 505.0 410.0Z"/>
<path fill="#a7d890" d="M520.0 600.0C519.2 578.3 525.0 556.7 530.0 540.0C535.0 523.3 541.7 505.0 550.0 500.0C558.3 495.0 571.7 500.0 580.0 510.0C588.3 520.0 596.7 541.7 600.0 560.0C603.3 578.3 605.0 603.3 600.0 620.0C595.0 636.7 580.8 651.7 570.0 660.0C559.2 668.3 543.3 680.0 535.0 670.0C526.7 660.0 520.8 621.7 520.0 600.0Z"/>
<path fill="#88ca68" d="M545.0 545.0C546.7 531.7 558.3 520.0 565.0 520.0C571.7 520.0 583.3 533.3 585.0 545.0C586.7 556.7 580.0 580.8 575.0 590.0C570.0 599.2 560.0 607.5 555.0 600.0C550.0 592.5 543.3 558.3 545.0 545.0Z"/>
<path fill="#f19c66" d="M590.0 430.0L600.0 380.0L640.0 320.0L680.0 275.0L715.0 255.0L1000.0 255.0L1000.0 760.0L790.0 690.0L770.0 684.0L730.0 664.0L690.0 644.0L650.0 654.0L620.0 694.0L590.0 754.0L560.0 804.0L520.0 834.0L470.0 839.0L430.0 814.0L390.0 794.0L330.0 779.0L260.0 784.0L215.0 809.0L140.0 830.0L140.0 764.0L250.0 764.0L300.0 754.0L360.0 739.0L400.0 724.0L430.0 714.0L460.0 744.0L500.0 764.0L550.0 744.0L590.0 714.0L620.0 664.0L645.0 634.0L670.0 600.0L700.0 560.0L700.0 480.0L670.0 470.0L620.0 500.0L595.0 480.0Z"/>
<path fill="#ffffff" d="M712.0 230.0L965.0 285.0L965.0 335.0L1000.0 400.0L1000.0 560.0L790.0 505.0L755.0 440.0L728.0 380.0L728.0 320.0L716.0 280.0Z"/>
<path fill="#bd4522" d="M600.0 400.0C606.7 376.7 626.7 350.0 640.0 330.0C653.3 310.0 667.5 292.5 680.0 280.0C692.5 267.5 705.8 251.7 715.0 255.0C724.2 258.3 733.3 282.5 735.0 300.0C736.7 317.5 730.8 336.7 725.0 360.0C719.2 383.3 707.5 428.3 700.0 440.0C692.5 451.7 688.3 425.0 680.0 430.0C671.7 435.0 660.0 458.8 650.0 470.0C640.0 481.2 628.3 497.0 620.0 497.0C611.7 497.0 603.3 486.2 600.0 470.0C596.7 453.8 593.3 423.3 600.0 400.0Z"/>
<path fill="#bd4522" d="M715.0 255.0C716.2 255.0 733.3 282.5 735.0 300.0C736.7 317.5 723.3 340.0 725.0 360.0C726.7 380.0 737.5 401.7 745.0 420.0C752.5 438.3 760.8 455.0 770.0 470.0C779.2 485.0 786.7 495.0 800.0 510.0C813.3 525.0 816.7 538.3 850.0 560.0C883.3 581.7 1008.3 620.0 1000.0 640.0C991.7 660.0 836.7 680.0 800.0 680.0C763.3 680.0 785.0 656.7 780.0 640.0C775.0 623.3 775.0 600.0 770.0 580.0C765.0 560.0 758.3 538.3 750.0 520.0C741.7 501.7 728.3 483.3 720.0 470.0C711.7 456.7 700.0 458.3 700.0 440.0C700.0 421.7 715.3 383.3 720.0 360.0C724.7 336.7 728.8 317.5 728.0 300.0C727.2 282.5 713.8 255.0 715.0 255.0Z"/>
<path fill="#ffffff" d="M605.0 480.0C602.5 470.8 597.5 453.3 600.0 440.0C602.5 426.7 611.7 410.8 620.0 400.0C628.3 389.2 640.8 378.3 650.0 375.0C659.2 371.7 673.3 372.5 675.0 380.0C676.7 387.5 666.7 405.0 660.0 420.0C653.3 435.0 642.5 457.5 635.0 470.0C627.5 482.5 620.0 493.3 615.0 495.0C610.0 496.7 607.5 489.2 605.0 480.0Z"/>
<path fill="#bd4522" d="M140.0 880.0L200.0 869.0L260.0 869.0L330.0 849.0L380.0 829.0L405.0 854.0L430.0 894.0L470.0 924.0L510.0 909.0L550.0 874.0L575.0 834.0L600.0 774.0L625.0 724.0L650.0 684.0L680.0 694.0L700.0 734.0L720.0 774.0L745.0 789.0L790.0 764.0L1000.0 740.0L1000.0 640.0L790.0 654.0L770.0 684.0L730.0 664.0L690.0 644.0L650.0 654.0L620.0 694.0L590.0 754.0L560.0 804.0L520.0 834.0L470.0 839.0L430.0 814.0L390.0 794.0L330.0 779.0L260.0 784.0L215.0 809.0L140.0 830.0Z"/>
<path fill="#ffffff" d="M140.0 884.0L200.0 873.0L260.0 873.0L330.0 853.0L380.0 833.0L405.0 858.0L430.0 898.0L470.0 928.0L510.0 913.0L550.0 878.0L575.0 838.0L600.0 778.0L625.0 728.0L650.0 688.0L680.0 698.0L700.0 738.0L720.0 778.0L745.0 793.0L790.0 768.0L1000.0 744.0L1000.0 1320.0L140.0 1320.0Z"/>
</g>
<use href="#st" class="ol"/><use href="#isl" class="ol" style="stroke-width:14;stroke:#222"/><use href="#coast"/><use href="#cdots"/>
</g>
<text class="t" x="955.0" y="27.9">DIA 08</text>
<rect class="fr" x="904.45" y="34.50" width="98.45" height="130.35"/>
<g transform="translate(904.00 34.00) scale(0.09766)">
<g clip-path="url(#cp)">
<rect x="0" y="0" width="1024" height="1340" fill="#ffffff"/>
<path fill="#bd4522" d="M345.0 250.0C360.0 240.8 379.2 241.3 400.0 240.0C420.8 238.7 451.7 237.8 470.0 242.0C488.3 246.2 502.5 252.0 510.0 265.0C517.5 278.0 516.7 304.2 515.0 320.0C513.3 335.8 504.2 347.5 500.0 360.0C495.8 372.5 485.0 390.0 490.0 395.0C495.0 400.0 518.3 390.0 530.0 390.0C541.7 390.0 551.7 388.3 560.0 395.0C568.3 401.7 577.5 416.7 580.0 430.0C582.5 443.3 581.7 461.7 575.0 475.0C568.3 488.3 554.2 498.3 540.0 510.0C525.8 521.7 508.3 534.2 490.0 545.0C471.7 555.8 448.3 569.2 430.0 575.0C411.7 580.8 393.3 582.5 380.0 580.0C366.7 577.5 354.2 570.8 350.0 560.0C345.8 549.2 356.7 528.3 355.0 515.0C353.3 501.7 350.8 486.7 340.0 480.0C329.2 473.3 309.2 476.3 290.0 475.0C270.8 473.7 230.3 482.8 225.0 472.0C219.7 461.2 246.7 431.2 258.0 410.0C269.3 388.8 284.3 364.2 293.0 345.0C301.7 325.8 301.3 310.8 310.0 295.0C318.7 279.2 330.0 259.2 345.0 250.0Z"/>
<path fill="#f19c66" d="M395.0 470.0C397.5 459.2 400.8 443.3 410.0 435.0C419.2 426.7 435.0 424.2 450.0 420.0C465.0 415.8 485.0 410.8 500.0 410.0C515.0 409.2 532.5 408.3 540.0 415.0C547.5 421.7 548.3 437.5 545.0 450.0C541.7 462.5 532.5 479.2 520.0 490.0C507.5 500.8 486.7 510.0 470.0 515.0C453.3 520.0 432.5 522.5 420.0 520.0C407.5 517.5 399.2 508.3 395.0 500.0C390.8 491.7 392.5 480.8 395.0 470.0Z"/>
<path fill="#d9c986" d="M450.0 455.0C451.7 450.5 470.0 439.2 480.0 435.0C490.0 430.8 506.7 427.5 510.0 430.0C513.3 432.5 506.7 444.7 500.0 450.0C493.3 455.3 478.3 461.2 470.0 462.0C461.7 462.8 448.3 459.5 450.0 455.0Z"/>
<path fill="#bd4522" d="M850.0 395.0C828.3 386.0 860.0 364.2 870.0 350.0C880.0 335.8 895.8 320.0 910.0 310.0C924.2 300.0 945.8 287.5 955.0 290.0C964.2 292.5 968.3 313.7 965.0 325.0C961.7 336.3 947.5 347.5 935.0 358.0C922.5 368.5 879.2 380.3 890.0 388.0C900.8 395.7 1006.7 402.8 1000.0 404.0C993.3 405.2 871.7 404.0 850.0 395.0Z"/>
<path fill="#bd4522" d="M515.0 829.0C516.7 815.7 527.5 793.2 540.0 779.0C552.5 764.8 573.3 756.5 590.0 744.0C606.7 731.5 625.0 719.0 640.0 704.0C655.0 689.0 666.7 669.7 680.0 654.0C693.3 638.3 706.7 622.3 720.0 610.0C733.3 597.7 746.7 586.3 760.0 580.0C773.3 573.7 760.0 568.7 800.0 572.0C840.0 575.3 966.7 555.0 1000.0 600.0C1033.3 645.0 1043.3 802.0 1000.0 842.0C956.7 882.0 788.3 843.3 740.0 840.0C691.7 836.7 720.0 825.0 710.0 822.0C700.0 819.0 690.0 818.7 680.0 822.0C670.0 825.3 660.0 834.7 650.0 842.0C640.0 849.3 633.3 861.2 620.0 866.0C606.7 870.8 585.0 872.2 570.0 871.0C555.0 869.8 539.2 866.0 530.0 859.0C520.8 852.0 513.3 842.3 515.0 829.0Z"/>
<path fill="#f19c66" d="M590.0 799.0C588.3 787.8 600.0 776.5 610.0 764.0C620.0 751.5 636.7 740.7 650.0 724.0C663.3 707.3 676.7 680.5 690.0 664.0C703.3 647.5 715.8 636.5 730.0 625.0C744.2 613.5 761.7 599.5 775.0 595.0C788.3 590.5 772.5 590.5 810.0 598.0C847.5 605.5 968.3 601.0 1000.0 640.0C1031.7 679.0 1043.3 800.0 1000.0 832.0C956.7 864.0 790.0 834.7 740.0 832.0C690.0 829.3 713.3 817.8 700.0 816.0C686.7 814.2 673.3 818.5 660.0 821.0C646.7 823.5 631.7 834.7 620.0 831.0C608.3 827.3 591.7 810.2 590.0 799.0Z"/>
<path fill="#d9c986" d="M660.0 764.0C658.3 753.2 671.7 738.0 680.0 724.0C688.3 710.0 698.3 693.2 710.0 680.0C721.7 666.8 736.7 654.2 750.0 645.0C763.3 635.8 779.2 624.2 790.0 625.0C800.8 625.8 780.0 637.5 815.0 650.0C850.0 662.5 969.2 680.0 1000.0 700.0C1030.8 720.0 1033.3 759.3 1000.0 770.0C966.7 780.7 838.3 761.7 800.0 764.0C761.7 766.3 781.7 779.0 770.0 784.0C758.3 789.0 743.3 793.2 730.0 794.0C716.7 794.8 701.7 794.0 690.0 789.0C678.3 784.0 661.7 774.8 660.0 764.0Z"/>
<path fill="#a7d890" d="M742.0 712.0C742.3 702.5 753.2 688.7 762.0 680.0C770.8 671.3 782.0 660.0 795.0 660.0C808.0 660.0 832.5 666.3 840.0 680.0C847.5 693.7 848.3 731.3 840.0 742.0C831.7 752.7 803.3 744.8 790.0 744.0C776.7 743.2 768.0 742.3 760.0 737.0C752.0 731.7 741.7 721.5 742.0 712.0Z"/>
</g>
<use href="#st" class="ol"/><use href="#isl" class="ol" style="stroke-width:14;stroke:#222"/><use href="#coast"/><use href="#cdots"/>
</g>
<text class="t" x="68.6" y="182.2">DIA 09</text>
<rect class="fr" x="18.95" y="187.50" width="98.45" height="130.35"/>
<g transform="translate(19.10 187.60) scale(0.09766)">
<g clip-path="url(#cp)">
<rect x="0" y="0" width="1024" height="1340" fill="#bd4522"/>
<path fill="#f19c66" d="M330.0 285.0C338.3 281.7 350.0 317.5 355.0 340.0C360.0 362.5 352.5 398.3 360.0 420.0C367.5 441.7 386.7 456.7 400.0 470.0C413.3 483.3 426.7 501.7 440.0 500.0C453.3 498.3 466.7 470.0 480.0 460.0C493.3 450.0 505.0 443.3 520.0 440.0C535.0 436.7 555.0 450.0 570.0 440.0C585.0 430.0 598.3 401.7 610.0 380.0C621.7 358.3 626.7 326.7 640.0 310.0C653.3 293.3 673.3 280.0 690.0 280.0C706.7 280.0 726.7 295.0 740.0 310.0C753.3 325.0 762.5 348.3 770.0 370.0C777.5 391.7 781.7 418.3 785.0 440.0C788.3 461.7 779.2 486.7 790.0 500.0C800.8 513.3 815.0 496.7 850.0 520.0C885.0 543.3 975.0 586.3 1000.0 640.0C1025.0 693.7 1043.3 810.0 1000.0 842.0C956.7 874.0 793.3 836.3 740.0 832.0C686.7 827.7 700.0 816.2 680.0 816.0C660.0 815.8 636.7 831.0 620.0 831.0C603.3 831.0 587.5 825.5 580.0 816.0C572.5 806.5 571.7 786.0 575.0 774.0C578.3 762.0 587.5 750.7 600.0 744.0C612.5 737.3 637.5 740.7 650.0 734.0C662.5 727.3 671.7 715.7 675.0 704.0C678.3 692.3 675.8 674.0 670.0 664.0C664.2 654.0 653.3 645.7 640.0 644.0C626.7 642.3 603.3 647.3 590.0 654.0C576.7 660.7 571.7 679.0 560.0 684.0C548.3 689.0 533.3 689.0 520.0 684.0C506.7 679.0 488.3 664.7 480.0 654.0C471.7 643.3 478.3 625.7 470.0 620.0C461.7 614.3 441.7 628.3 430.0 620.0C418.3 611.7 410.0 588.3 400.0 570.0C390.0 551.7 381.7 528.3 370.0 510.0C358.3 491.7 341.7 475.0 330.0 460.0C318.3 445.0 304.2 436.7 300.0 420.0C295.8 403.3 300.0 382.5 305.0 360.0C310.0 337.5 321.7 288.3 330.0 285.0Z"/>
<path fill="#f19c66" d="M20.0 650.0C18.3 646.0 68.3 622.2 90.0 608.0C111.7 593.8 135.0 566.3 150.0 565.0C165.0 563.7 170.0 587.5 180.0 600.0C190.0 612.5 202.5 627.7 210.0 640.0C217.5 652.3 225.3 667.7 225.0 674.0C224.7 680.3 217.2 682.7 208.0 678.0C198.8 673.3 188.0 653.7 170.0 646.0C152.0 638.3 125.0 631.3 100.0 632.0C75.0 632.7 21.7 654.0 20.0 650.0Z"/>
<path fill="#d9c986" d="M385.0 100.0C394.2 90.0 404.2 93.3 410.0 110.0C415.8 126.7 419.2 171.7 420.0 200.0C420.8 228.3 415.0 256.7 415.0 280.0C415.0 303.3 415.8 322.5 420.0 340.0C424.2 357.5 426.7 375.3 440.0 385.0C453.3 394.7 482.5 393.5 500.0 398.0C517.5 402.5 534.7 405.0 545.0 412.0C555.3 419.0 564.5 433.3 562.0 440.0C559.5 446.7 541.2 450.7 530.0 452.0C518.8 453.3 505.0 448.0 495.0 448.0C485.0 448.0 477.5 445.0 470.0 452.0C462.5 459.0 458.3 482.8 450.0 490.0C441.7 497.2 430.8 503.3 420.0 495.0C409.2 486.7 394.2 455.8 385.0 440.0C375.8 424.2 370.0 418.3 365.0 400.0C360.0 381.7 360.0 353.3 355.0 330.0C350.0 306.7 335.0 286.7 335.0 260.0C335.0 233.3 346.7 196.7 355.0 170.0C363.3 143.3 375.8 110.0 385.0 100.0Z"/>
<path fill="#d9c986" d="M560.0 410.0C564.2 400.8 590.8 403.3 600.0 390.0C609.2 376.7 608.3 344.2 615.0 330.0C621.7 315.8 629.2 303.3 640.0 305.0C650.8 306.7 666.7 329.2 680.0 340.0C693.3 350.8 708.3 356.7 720.0 370.0C731.7 383.3 742.5 403.3 750.0 420.0C757.5 436.7 760.0 456.7 765.0 470.0C770.0 483.3 765.8 491.7 780.0 500.0C794.2 508.3 843.3 508.3 850.0 520.0C856.7 531.7 826.7 550.0 820.0 570.0C813.3 590.0 808.3 618.3 810.0 640.0C811.7 661.7 829.2 683.3 830.0 700.0C830.8 716.7 825.0 730.7 815.0 740.0C805.0 749.3 784.2 758.7 770.0 756.0C755.8 753.3 739.2 737.7 730.0 724.0C720.8 710.3 719.2 686.3 715.0 674.0C710.8 661.7 709.2 662.3 705.0 650.0C700.8 637.7 699.2 612.5 690.0 600.0C680.8 587.5 665.0 576.7 650.0 575.0C635.0 573.3 616.7 587.5 600.0 590.0C583.3 592.5 562.5 595.0 550.0 590.0C537.5 585.0 525.8 571.7 525.0 560.0C524.2 548.3 534.2 526.7 545.0 520.0C555.8 513.3 575.8 518.3 590.0 520.0C604.2 521.7 621.7 535.0 630.0 530.0C638.3 525.0 642.5 503.3 640.0 490.0C637.5 476.7 625.8 457.5 615.0 450.0C604.2 442.5 584.2 451.7 575.0 445.0C565.8 438.3 555.8 419.2 560.0 410.0Z"/>
<path fill="#d9c986" d="M500.0 420.0C504.2 413.3 520.0 401.7 530.0 400.0C540.0 398.3 555.0 403.3 560.0 410.0C565.0 416.7 565.0 433.3 560.0 440.0C555.0 446.7 539.2 450.0 530.0 450.0C520.8 450.0 510.0 445.0 505.0 440.0C500.0 435.0 495.8 426.7 500.0 420.0Z"/>
<path fill="#a7d890" d="M410.0 110.0C413.3 90.0 430.0 81.7 440.0 80.0C450.0 78.3 461.7 88.3 470.0 100.0C478.3 111.7 481.7 150.0 490.0 150.0C498.3 150.0 505.8 101.7 520.0 100.0C534.2 98.3 560.0 123.3 575.0 140.0C590.0 156.7 602.8 181.7 610.0 200.0C617.2 218.3 621.3 231.7 618.0 250.0C614.7 268.3 598.8 289.7 590.0 310.0C581.2 330.3 572.5 355.3 565.0 372.0C557.5 388.7 552.5 403.7 545.0 410.0C537.5 416.3 529.2 415.0 520.0 410.0C510.8 405.0 503.3 384.2 490.0 380.0C476.7 375.8 451.7 391.7 440.0 385.0C428.3 378.3 424.2 357.5 420.0 340.0C415.8 322.5 415.0 303.3 415.0 280.0C415.0 256.7 420.8 228.3 420.0 200.0C419.2 171.7 406.7 130.0 410.0 110.0Z"/>
<path fill="#88ca68" d="M465.0 115.0C466.7 100.3 480.0 105.3 485.0 112.0C490.0 118.7 489.2 155.3 495.0 155.0C500.8 154.7 507.5 110.0 520.0 110.0C532.5 110.0 555.7 138.3 570.0 155.0C584.3 171.7 598.8 194.2 606.0 210.0C613.2 225.8 615.7 233.3 613.0 250.0C610.3 266.7 598.0 289.7 590.0 310.0C582.0 330.3 573.3 357.8 565.0 372.0C556.7 386.2 547.5 393.7 540.0 395.0C532.5 396.3 525.8 390.8 520.0 380.0C514.2 369.2 510.0 346.7 505.0 330.0C500.0 313.3 495.0 301.7 490.0 280.0C485.0 258.3 479.2 227.5 475.0 200.0C470.8 172.5 463.3 129.7 465.0 115.0Z"/>
<path fill="#6cc24a" d="M530.0 350.0C535.8 342.5 553.3 331.3 560.0 335.0C566.7 338.7 572.5 362.8 570.0 372.0C567.5 381.2 552.5 388.7 545.0 390.0C537.5 391.3 527.5 386.7 525.0 380.0C522.5 373.3 524.2 357.5 530.0 350.0Z"/>
<path fill="#f19c66" d="M665.0 277.0C665.0 280.6 664.2 284.4 662.9 287.7C661.5 291.0 659.3 294.3 656.8 296.8C654.3 299.3 651.0 301.5 647.7 302.9C644.4 304.2 640.6 305.0 637.0 305.0C633.4 305.0 629.6 304.2 626.3 302.9C623.0 301.5 619.7 299.3 617.2 296.8C614.7 294.3 612.5 291.0 611.1 287.7C609.8 284.4 609.0 280.6 609.0 277.0C609.0 273.4 609.8 269.6 611.1 266.3C612.5 263.0 614.7 259.7 617.2 257.2C619.7 254.7 623.0 252.5 626.3 251.1C629.6 249.8 633.4 249.0 637.0 249.0C640.6 249.0 644.4 249.8 647.7 251.1C651.0 252.5 654.3 254.7 656.8 257.2C659.3 259.7 661.5 263.0 662.9 266.3C664.2 269.6 665.0 273.4 665.0 277.0Z"/>
<path fill="#bd4522" d="M700.0 270.0C701.7 259.2 726.7 240.0 740.0 235.0C753.3 230.0 767.7 235.5 780.0 240.0C792.3 244.5 808.2 245.3 814.0 262.0C819.8 278.7 813.7 313.7 815.0 340.0C816.3 366.3 823.5 396.7 822.0 420.0C820.5 443.3 813.0 470.0 806.0 480.0C799.0 490.0 786.0 493.3 780.0 480.0C774.0 466.7 773.3 423.3 770.0 400.0C766.7 376.7 766.7 356.7 760.0 340.0C753.3 323.3 740.0 311.7 730.0 300.0C720.0 288.3 698.3 280.8 700.0 270.0Z"/>
<path fill="#ffffff" d="M812.0 255.0L965.0 285.0L965.0 335.0L1000.0 400.0L812.0 488.0L824.0 420.0L817.0 340.0Z"/>
<path fill="#bd4522" d="M890.0 388.0C897.2 375.0 933.8 327.7 945.0 318.0C956.2 308.3 964.2 317.0 957.0 330.0C949.8 343.0 913.2 386.3 902.0 396.0C890.8 405.7 882.8 401.0 890.0 388.0Z"/>
<path fill="#bd4522" d="M510.0 410.0C510.0 411.9 509.7 414.0 509.2 415.7C508.8 417.5 508.0 419.3 507.1 420.6C506.2 422.0 505.0 423.1 503.8 423.9C502.6 424.6 501.3 425.0 500.0 425.0C498.7 425.0 497.4 424.6 496.2 423.9C495.0 423.1 493.8 422.0 492.9 420.6C492.0 419.3 491.2 417.5 490.8 415.7C490.3 414.0 490.0 411.9 490.0 410.0C490.0 408.1 490.3 406.0 490.8 404.3C491.2 402.5 492.0 400.7 492.9 399.4C493.8 398.0 495.0 396.9 496.2 396.1C497.4 395.4 498.7 395.0 500.0 395.0C501.3 395.0 502.6 395.4 503.8 396.1C505.0 396.9 506.2 398.0 507.1 399.4C508.0 400.7 508.8 402.5 509.2 404.3C509.7 406.0 510.0 408.1 510.0 410.0Z"/>
<path fill="#ffffff" d="M315.0 520.0C317.5 514.2 334.2 505.8 340.0 505.0C345.8 504.2 352.5 509.2 350.0 515.0C347.5 520.8 330.8 539.2 325.0 540.0C319.2 540.8 312.5 525.8 315.0 520.0Z"/>
<path fill="#ffffff" d="M660.0 693.0C660.0 694.9 659.5 697.0 658.7 698.7C657.9 700.5 656.6 702.3 655.0 703.6C653.5 705.0 651.5 706.1 649.5 706.9C647.5 707.6 645.2 708.0 643.0 708.0C640.8 708.0 638.5 707.6 636.5 706.9C634.5 706.1 632.5 705.0 631.0 703.6C629.4 702.3 628.1 700.5 627.3 698.7C626.5 697.0 626.0 694.9 626.0 693.0C626.0 691.1 626.5 689.0 627.3 687.3C628.1 685.5 629.4 683.7 631.0 682.4C632.5 681.0 634.5 679.9 636.5 679.1C638.5 678.4 640.8 678.0 643.0 678.0C645.2 678.0 647.5 678.4 649.5 679.1C651.5 679.9 653.5 681.0 655.0 682.4C656.6 683.7 657.9 685.5 658.7 687.3C659.5 689.0 660.0 691.1 660.0 693.0Z"/>
<path fill="#a7d890" d="M770.0 560.0C773.3 543.3 766.7 526.7 780.0 520.0C793.3 513.3 838.3 506.7 850.0 520.0C861.7 533.3 851.7 578.3 850.0 600.0C848.3 621.7 847.5 634.7 840.0 650.0C832.5 665.3 816.7 688.3 805.0 692.0C793.3 695.7 777.5 684.0 770.0 672.0C762.5 660.0 760.0 638.7 760.0 620.0C760.0 601.3 766.7 576.7 770.0 560.0Z"/>
<path fill="#88ca68" d="M790.0 540.0C800.0 530.0 840.8 530.0 850.0 540.0C859.2 550.0 852.5 582.2 845.0 600.0C837.5 617.8 814.2 647.0 805.0 647.0C795.8 647.0 792.5 617.8 790.0 600.0C787.5 582.2 780.0 550.0 790.0 540.0Z"/>
<path fill="#ffffff" d="M140.0 900.0C150.0 829.8 185.0 905.0 200.0 899.0C215.0 893.0 218.3 879.8 230.0 864.0C241.7 848.2 256.7 824.0 270.0 804.0C283.3 784.0 296.7 761.5 310.0 744.0C323.3 726.5 336.7 708.2 350.0 699.0C363.3 689.8 378.3 686.5 390.0 689.0C401.7 691.5 408.3 699.8 420.0 714.0C431.7 728.2 446.7 752.3 460.0 774.0C473.3 795.7 488.3 824.8 500.0 844.0C511.7 863.2 518.3 879.8 530.0 889.0C541.7 898.2 551.7 903.8 570.0 899.0C588.3 894.2 628.3 789.8 640.0 860.0C651.7 930.2 723.3 1243.3 640.0 1320.0C556.7 1396.7 223.3 1390.0 140.0 1320.0C56.7 1250.0 130.0 970.2 140.0 900.0Z"/>
</g>
<use href="#st" class="ol"/><use href="#isl" class="ol" style="stroke-width:14;stroke:#222"/><use href="#coast"/><use href="#cdots"/>
</g>
<text class="t" x="197.3" y="182.2">DIA 10</text>
<rect class="fr" x="147.45" y="187.50" width="98.45" height="130.35"/>
<g transform="translate(147.00 187.00) scale(0.09766)">
<use href="#gmap"/>
</g>
<text class="t" x="328.7" y="183.5">DIA 11</text>
<rect class="fr" x="275.45" y="187.50" width="98.45" height="130.35"/>
<g transform="translate(275.00 187.00) scale(0.09766)">
<use href="#gmap"/>
</g>
<text class="t" x="452.4" y="183.5">DIA 12</text>
<rect class="fr" x="401.95" y="187.50" width="98.45" height="130.35"/>
<g transform="translate(401.50 187.00) scale(0.09766)">
<use href="#gmap"/>
</g>
<text class="t" x="579.0" y="182.2">DIA 13</text>
<rect class="fr" x="528.45" y="187.50" width="98.45" height="130.35"/>
<g transform="translate(528.00 187.00) scale(0.09766)">
<use href="#gmap"/>
</g>
<text class="t" x="706.0" y="183.5">DIA 14</text>
<rect class="fr" x="656.45" y="187.50" width="98.45" height="130.35"/>
<g transform="translate(656.00 187.00) scale(0.09766)">
<use href="#gmap"/>
</g>
<text class="t" x="830.0" y="184.5">DIA 15</text>
<rect class="fr" x="780.45" y="187.50" width="98.45" height="130.35"/>
<g transform="translate(780.00 187.00) scale(0.09766)">
<use href="#gmap"/>
</g>
<text class="t" x="955.7" y="182.2">DIA 16</text>
<rect class="fr" x="904.45" y="187.50" width="98.45" height="130.35"/>
<g transform="translate(904.00 187.00) scale(0.09766)">
<use href="#gmap"/>
</g>
<text class="t" x="69.0" y="344.0">DIA 17</text>
<rect class="fr" x="18.95" y="348.20" width="98.45" height="130.35"/>
<g transform="translate(18.50 347.70) scale(0.09766)">
<use href="#gmap"/>
</g>
<text class="t" x="194.8" y="343.0">DIA 18</text>
<rect class="fr" x="147.45" y="348.20" width="98.45" height="130.35"/>
<g transform="translate(147.00 347.70) scale(0.09766)">
<use href="#gmap"/>
</g>
<text class="t" x="321.9" y="343.5">DIA 19</text>
<rect class="fr" x="275.45" y="348.20" width="98.45" height="130.35"/>
<g transform="translate(275.00 347.70) scale(0.09766)">
<use href="#gmap"/>
</g>
<text class="t" x="451.4" y="344.5">DIA 20</text>
<rect class="fr" x="401.95" y="348.20" width="98.45" height="130.35"/>
<g transform="translate(401.50 347.70) scale(0.09766)">
<use href="#gmap"/>
</g>
<text class="t" x="578.0" y="343.0">DIA 21</text>
<rect class="fr" x="528.45" y="348.20" width="98.45" height="130.35"/>
<g transform="translate(528.00 347.70) scale(0.09766)">
<use href="#gmap"/>
</g>
<text class="t" x="706.0" y="343.0">DIA 22</text>
<rect class="fr" x="656.45" y="348.20" width="98.45" height="130.35"/>
<g transform="translate(656.00 347.70) scale(0.09766)">
<use href="#gmap"/>
</g>
<text class="t" x="830.0" y="344.0">DIA 23</text>
<rect class="fr" x="780.45" y="348.20" width="98.45" height="130.35"/>
<g transform="translate(780.00 347.70) scale(0.09766)">
<use href="#gmap"/>
</g>
<text class="t" x="954.0" y="342.8">DIA 24</text>
<rect class="fr" x="904.45" y="348.20" width="98.45" height="130.35"/>
<g transform="translate(904.00 347.70) scale(0.09766)">
<use href="#gmap"/>
</g>
<text class="t" x="69.0" y="501.0">DIA 25</text>
<rect class="fr" x="18.95" y="506.20" width="98.45" height="130.35"/>
<g transform="translate(18.50 505.70) scale(0.09766)">
<use href="#gmap"/>
</g>
<text class="t" x="197.3" y="501.3">DIA 26</text>
<rect class="fr" x="147.45" y="506.20" width="98.45" height="130.35"/>
<g transform="translate(147.00 505.70) scale(0.09766)">
<use href="#gmap"/>
</g>
<text class="t" x="323.1" y="502.3">DIA 27</text>
<rect class="fr" x="275.45" y="506.20" width="98.45" height="130.35"/>
<g transform="translate(275.00 505.70) scale(0.09766)">
<use href="#gmap"/>
</g>
<text class="t" x="452.4" y="501.8">DIA 28</text>
<rect class="fr" x="401.95" y="506.20" width="98.45" height="130.35"/>
<g transform="translate(401.50 505.70) scale(0.09766)">
<use href="#gmap"/>
</g>
<text class="t" x="578.0" y="501.0">DIA 29</text>
<rect class="fr" x="528.45" y="506.20" width="98.45" height="130.35"/>
<g transform="translate(528.00 505.70) scale(0.09766)">
<use href="#gmap"/>
</g>
<text class="t" x="706.0" y="500.5">DIA 30</text>
<rect class="fr" x="656.45" y="506.20" width="98.45" height="130.35"/>
<g transform="translate(656.00 505.70) scale(0.09766)">
<use href="#gmap"/>
</g>
<text class="t" x="830.8" y="501.0">DIA 31</text>
<rect class="fr" x="780.45" y="506.20" width="98.45" height="130.35"/>
<g transform="translate(780.00 505.70) scale(0.09766)">
<use href="#gmap"/>
</g>
<text class="lg" x="945.6" y="505.6" textLength="34.8" lengthAdjust="spacingAndGlyphs">mm/dia</text>
<rect x="931.5" y="511.80" width="14.7" height="9.9" fill="#3d4e82" stroke="#383838" stroke-width="1"/>
<text class="lg" x="951.6" y="520.60" textLength="25.7" lengthAdjust="spacingAndGlyphs">&gt; 120</text>
<rect x="931.5" y="527.63" width="14.7" height="9.9" fill="#6a58b0" stroke="#383838" stroke-width="1"/>
<text class="lg" x="951.6" y="536.43" textLength="43.3" lengthAdjust="spacingAndGlyphs">100 - 120</text>
<rect x="931.5" y="543.46" width="14.7" height="9.9" fill="#8373c8" stroke="#383838" stroke-width="1"/>
<text class="lg" x="951.6" y="552.26" textLength="37.8" lengthAdjust="spacingAndGlyphs">80 - 100</text>
<rect x="931.5" y="559.29" width="14.7" height="9.9" fill="#6f8a84" stroke="#383838" stroke-width="1"/>
<text class="lg" x="951.6" y="568.09" textLength="32.3" lengthAdjust="spacingAndGlyphs">70 - 80</text>
<rect x="931.5" y="575.12" width="14.7" height="9.9" fill="#22a055" stroke="#383838" stroke-width="1"/>
<text class="lg" x="951.6" y="583.92" textLength="32.3" lengthAdjust="spacingAndGlyphs">60 - 70</text>
<rect x="931.5" y="590.95" width="14.7" height="9.9" fill="#30ad52" stroke="#383838" stroke-width="1"/>
<text class="lg" x="951.6" y="599.75" textLength="32.3" lengthAdjust="spacingAndGlyphs">50 - 60</text>
<rect x="931.5" y="606.78" width="14.7" height="9.9" fill="#6cc24a" stroke="#383838" stroke-width="1"/>
<text class="lg" x="951.6" y="615.58" textLength="32.3" lengthAdjust="spacingAndGlyphs">40 - 50</text>
<rect x="931.5" y="622.61" width="14.7" height="9.9" fill="#8ccd6b" stroke="#383838" stroke-width="1"/>
<text class="lg" x="951.6" y="631.41" textLength="32.3" lengthAdjust="spacingAndGlyphs">30 - 40</text>
<rect x="931.5" y="638.44" width="14.7" height="9.9" fill="#a7d890" stroke="#383838" stroke-width="1"/>
<text class="lg" x="951.6" y="647.24" textLength="32.3" lengthAdjust="spacingAndGlyphs">20 - 30</text>
<rect x="931.5" y="654.27" width="14.7" height="9.9" fill="#d9c986" stroke="#383838" stroke-width="1"/>
<text class="lg" x="951.6" y="663.07" textLength="32.3" lengthAdjust="spacingAndGlyphs">10 - 20</text>
<rect x="931.5" y="670.10" width="14.7" height="9.9" fill="#f19c66" stroke="#383838" stroke-width="1"/>
<text class="lg" x="951.6" y="678.90" textLength="26.5" lengthAdjust="spacingAndGlyphs">5 - 10</text>
<rect x="931.5" y="685.93" width="14.7" height="9.9" fill="#bd4522" stroke="#383838" stroke-width="1"/>
<text class="lg" x="951.6" y="694.73" textLength="20.7" lengthAdjust="spacingAndGlyphs">2 - 5</text>
<rect x="931.5" y="701.76" width="14.7" height="9.9" fill="#ffffff" stroke="#383838" stroke-width="1"/>
<text class="lg" x="951.6" y="710.56" textLength="23.3" lengthAdjust="spacingAndGlyphs">&lt;= 2</text>
<rect class="fr" x="19.4" y="656.2" width="511.9" height="59.3"/>
<rect class="fr" x="542" y="655.6" width="337.5" height="60.8"/>
<text id="ttl" x="555.8" y="691.3" font-size="18.4" textLength="307.5" lengthAdjust="spacingAndGlyphs" fill="#141414">Chuvas diárias observadas em março de 2026</text>
<text x="380.0" y="674.6" font-size="8.4" textLength="138.6" lengthAdjust="spacingAndGlyphs" fill="#050505" stroke="#050505" stroke-width="0.1">SISTEMA DE COORDENADAS GEOGRÁFICAS</text>
<text x="394.9" y="683.6" font-size="8.4" textLength="108.7" lengthAdjust="spacingAndGlyphs" fill="#050505" stroke="#050505" stroke-width="0.1">DATUM HORIZONTAL: SIRGAS 2000</text>
<text x="384.6" y="692.5" font-size="8.4" textLength="129.5" lengthAdjust="spacingAndGlyphs" fill="#050505" stroke="#050505" stroke-width="0.1">FONTE: IBGE (2022); NUGEO/UEMA (2024).</text>
<text x="379.6" y="701.5" font-size="8.4" textLength="139.3" lengthAdjust="spacingAndGlyphs" fill="#050505" stroke="#050505" stroke-width="0.1">FONTES DE DADOS: CEMADEM/INMET/UEMA</text>
<rect x="239.2" y="702.4" width="116.6" height="6.3" fill="#fff"/>
<rect x="239.2" y="702.40" width="15.1" height="3.15" fill="#000"/>
<rect x="254.3" y="705.55" width="14.2" height="3.15" fill="#000"/>
<rect x="268.5" y="702.40" width="29.0" height="3.15" fill="#000"/>
<rect x="297.5" y="705.55" width="29.0" height="3.15" fill="#000"/>
<rect x="326.5" y="702.40" width="29.3" height="3.15" fill="#000"/>
<rect x="239.2" y="702.4" width="116.6" height="6.3" fill="none" stroke="#000" stroke-width="0.7"/>
<text x="234.0" y="698.1" font-size="9.1" textLength="11.1" lengthAdjust="spacingAndGlyphs" fill="#0a0a0a">250</text>
<text x="266.6" y="698.1" font-size="9.1" textLength="3.7" lengthAdjust="spacingAndGlyphs" fill="#0a0a0a">0</text>
<text x="292.2" y="698.1" font-size="9.1" textLength="11.1" lengthAdjust="spacingAndGlyphs" fill="#0a0a0a">250</text>
<text x="321.2" y="698.1" font-size="9.1" textLength="11.1" lengthAdjust="spacingAndGlyphs" fill="#0a0a0a">500</text>
<text x="350.2" y="698.1" font-size="9.1" textLength="22.4" lengthAdjust="spacingAndGlyphs" fill="#0a0a0a">750 km</text>
<g fill="#000">
<path transform="rotate(0 290.50 672.15)" d="M290.50 663.15l1.45 4.9h-2.9z"/>
<path transform="rotate(90 290.50 672.15)" d="M290.50 663.15l1.45 4.9h-2.9z"/>
<path transform="rotate(180 290.50 672.15)" d="M290.50 663.15l1.45 4.9h-2.9z"/>
<path transform="rotate(270 290.50 672.15)" d="M290.50 663.15l1.45 4.9h-2.9z"/>
<circle cx="290.50" cy="672.15" r="4.35" fill="#fff" stroke="#3a3a3a" stroke-width="0.75"/>
<text x="290.50" y="662.05" font-size="2.1" font-weight="bold" text-anchor="middle" fill="#000" stroke="#000" stroke-width="0.25">N</text>
<text x="290.50" y="683.75" font-size="2.1" font-weight="bold" text-anchor="middle" fill="#000" stroke="#000" stroke-width="0.25">S</text>
<text x="279.40" y="672.90" font-size="2.1" font-weight="bold" text-anchor="middle" fill="#000" stroke="#000" stroke-width="0.25">W</text>
<text x="301.00" y="672.90" font-size="2.1" font-weight="bold" text-anchor="middle" fill="#000" stroke="#000" stroke-width="0.25">E</text>
</g>
<g id="nugeo">
<defs><linearGradient id="ngg" x1="0" x2="1" y1="0" y2="0"><stop offset="0" stop-color="#1b1fa6"/><stop offset="1" stop-color="#2a74dd"/></linearGradient></defs>
<circle cx="60.8" cy="685.6" r="7.4" fill="#fff" stroke="#2b72e0" stroke-width="0.9"/>
<path d="M55.2 681.2c1.6-2.6 4.2-3.6 6.6-3.4c-0.8 1.4-2.8 1.4-3 3c1.8 0.6 3.2 1.6 4.8 2.8c1.4 1.2 1.8 3 0.8 4.6l-2 3.6c-1.2-1.6-1-3.4-2.2-4.8c-1.4-1.4-3.8-1.6-4.6-3.2c-0.4-0.9-0.6-1.8-0.4-2.6z" fill="#2b72e0"/>
<path d="M64.4 679.4c2 1 3.4 3 3.6 5.4c-1.2-0.6-1.4-2-2.6-2.8c-0.8-0.6-1.2-1.6-1-2.6z" fill="#2b72e0"/>
<text x="23.6" y="692.3" font-size="9.2" font-weight="bold" textLength="32" lengthAdjust="spacingAndGlyphs" style="fill:url(#ngg);stroke:#2440c0;stroke-width:0.55">NuGe</text>
<text x="23.8" y="696" font-size="2.3" font-weight="bold" textLength="39.5" lengthAdjust="spacingAndGlyphs" style="fill:#2447c8">NÚCLEO GEOAMBIENTAL - UEMA</text>
</g>
<g id="gov">
<text x="86" y="684.6" font-size="2.2" textLength="20" lengthAdjust="spacingAndGlyphs" style="fill:#8a8a8a">GOVERNO DO</text>
<defs><linearGradient id="mg" gradientUnits="userSpaceOnUse" x1="73.2" y1="0" x2="118.3" y2="0"><stop offset="0.000" stop-color="#c8232c"/><stop offset="0.262" stop-color="#c8232c"/><stop offset="0.262" stop-color="#1f5fa8"/><stop offset="0.384" stop-color="#1f5fa8"/><stop offset="0.384" stop-color="#258a6a"/><stop offset="0.505" stop-color="#258a6a"/><stop offset="0.505" stop-color="#2e9e48"/><stop offset="0.625" stop-color="#2e9e48"/><stop offset="0.625" stop-color="#b9c22f"/><stop offset="0.747" stop-color="#b9c22f"/><stop offset="0.747" stop-color="#f7941d"/><stop offset="1.000" stop-color="#f7941d"/></linearGradient></defs>
<text x="73.2" y="692.7" font-size="10" font-weight="bold" textLength="45.1" lengthAdjust="spacingAndGlyphs" style="fill:url(#mg);stroke:url(#mg);stroke-width:1.1;stroke-linejoin:round">MARANHÃO</text>
<text x="81.2" y="696.2" font-size="2.2" textLength="29.6" lengthAdjust="spacingAndGlyphs" style="fill:#8a8a8a">GOVERNO DE TODOS NÓS</text>
</g>
<g id="crest">
<ellipse cx="130.6" cy="689" rx="7.4" ry="10" fill="#fff" stroke="#9aa9cc" stroke-width="0.6"/>
<path d="M126.4 682.2h8.8v9.6c0 2.6-2 4-4.4 4.8c-2.4-0.8-4.4-2.2-4.4-4.8z" fill="#e9b44a" stroke="#b8862a" stroke-width="0.4"/>
<rect x="127.2" y="683.2" width="2.6" height="2.8" fill="#2b4aa0"/>
<rect x="129.8" y="683.2" width="4.6" height="0.9" fill="#c8322c"/><rect x="129.8" y="684.1" width="4.6" height="0.9" fill="#f4f0e6"/><rect x="129.8" y="685" width="4.6" height="1" fill="#c8322c"/>
<rect x="127.2" y="686.4" width="7.2" height="1.3" fill="#d9532c"/>
<rect x="127.2" y="688.4" width="4.4" height="2.2" fill="#3f8f4a"/><rect x="131.6" y="688.4" width="2.8" height="2.2" fill="#e98a2c"/>
<path d="M127.6 691.8h6.4c-0.2 1.6-1.4 2.8-3.2 3.6c-1.8-0.8-3-2-3.2-3.6z" fill="#4a5a3a"/>
<path d="M124.4 694.6c1.6 1.6 3.8 2.8 6.2 3c2.4-0.2 4.6-1.4 6.2-3" fill="none" stroke="#c9a24a" stroke-width="0.5"/>
</g>
<g id="uema">
<text x="141.6" y="689.6" font-size="9.5" font-weight="bold" textLength="31.6" lengthAdjust="spacingAndGlyphs" style="fill:#14305c;stroke:#14305c;stroke-width:0.35">Uema</text>
<text x="141.9" y="693.6" font-size="2.1" textLength="31" lengthAdjust="spacingAndGlyphs" style="fill:#5a6f99">UNIVERSIDADE ESTADUAL</text>
<text x="141.9" y="696" font-size="2.1" textLength="18" lengthAdjust="spacingAndGlyphs" style="fill:#5a6f99">DO MARANHÃO</text>
</g>
<g id="fapead">
<circle cx="189.7" cy="685" r="9.8" fill="#fff" stroke="#4b4a9c" stroke-width="1.7"/>
<path d="M181.6 690.4a9.6 9.6 0 0 0 16.2 0c-2.4 1-3.8 1-5.4 0.3c-1.8-0.8-3.4-0.9-5.4-0.2c-1.8 0.6-3.4 0.7-5.4-0.1z" fill="#4b4a9c"/>
<path d="M181.2 688.6c2.4 1.3 4.2 1.2 6 0.4c1.8-0.8 3.4-0.7 5.2 0.2c1.6 0.8 3.2 0.7 5-0.3v-1.9c-1.8 0.9-3.4 1-5 0.2c-1.8-0.9-3.4-1-5.2-0.2c-1.8 0.8-3.6 0.8-6-0.4z" fill="#35b8dc"/>
<path d="M188.2 680.4l2.3-2.4l2.3 2.4v-1.2h-0.8v1.8h-3z" fill="#4b4a9c"/><rect x="188.9" y="680.3" width="3.2" height="1.3" fill="#4b4a9c"/>
<text x="179.3" y="687.4" font-size="5.6" font-weight="bold" textLength="21" lengthAdjust="spacingAndGlyphs" style="fill:#2fb5d8;stroke:#2fb5d8;stroke-width:0.3">FAPEAD</text>
<text x="178.4" y="697.3" font-size="1.9" textLength="23.6" lengthAdjust="spacingAndGlyphs" style="fill:#4b4a9c">FUNDAÇÃO DE APOIO AO ENSINO</text>
<text x="182.4" y="699.1" font-size="1.9" textLength="15.6" lengthAdjust="spacingAndGlyphs" style="fill:#4b4a9c">PESQUISA E EXTENSÃO</text>
</g>
</svg></body></html>
